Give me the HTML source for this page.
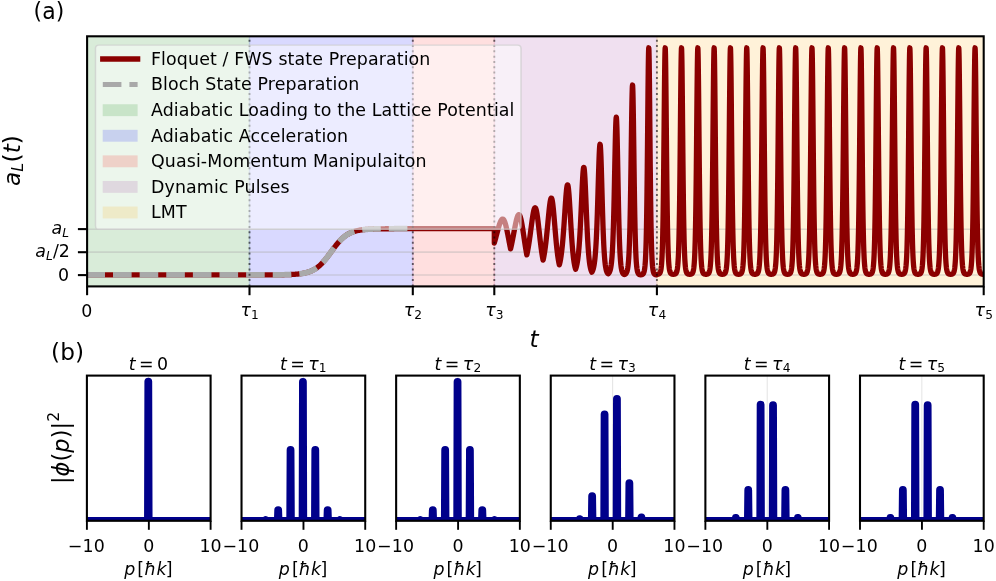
<!DOCTYPE html>
<html><head><meta charset="utf-8"><title>Floquet state preparation</title>
<style>
html,body{margin:0;padding:0;background:#fff;}
svg{display:block;}
text{font-family:'DejaVu Sans','Liberation Sans',sans-serif;fill:#000;letter-spacing:0.12px;}
.i{font-style:italic;}
</style></head><body>
<svg width="996" height="581" viewBox="0 0 996 581">
<rect width="996" height="581" fill="#fff"/>

<g id="spans">
<rect x="87.10" y="36.3" width="163.10" height="250.10" fill="#008000" fill-opacity="0.15"/>
<rect x="248.80" y="36.3" width="164.70" height="250.10" fill="#0000ff" fill-opacity="0.15"/>
<rect x="412.10" y="36.3" width="82.90" height="250.10" fill="#ff0000" fill-opacity="0.125"/>
<rect x="493.60" y="36.3" width="164.00" height="250.10" fill="#800080" fill-opacity="0.12"/>
<rect x="656.20" y="36.3" width="327.50" height="250.10" fill="#ffa500" fill-opacity="0.15"/>
</g>
<g stroke="#b0b0b0" stroke-opacity="0.4" stroke-width="1.6">
<line x1="87.1" x2="983.7" y1="275.0" y2="275.0"/>
<line x1="87.1" x2="983.7" y1="252.1" y2="252.1"/>
<line x1="87.1" x2="983.7" y1="229.2" y2="229.2"/>
</g>
<clipPath id="ca"><rect x="87.1" y="36.3" width="896.6" height="250.09999999999997"/></clipPath>
<g clip-path="url(#ca)" fill="none" stroke-linejoin="round">
<path d="M86.40,274.90 L89.73,274.90 L93.06,274.90 L96.39,274.90 L99.71,274.90 L103.04,274.90 L106.37,274.90 L109.70,274.90 L113.03,274.90 L116.36,274.90 L119.69,274.90 L123.01,274.90 L126.34,274.90 L129.67,274.90 L133.00,274.90 L136.33,274.90 L139.66,274.90 L142.99,274.90 L146.31,274.90 L149.64,274.90 L152.97,274.90 L156.30,274.90 L159.63,274.90 L162.96,274.90 L166.29,274.90 L169.61,274.90 L172.94,274.90 L176.27,274.90 L179.60,274.90 L182.93,274.90 L186.26,274.90 L189.59,274.90 L192.91,274.90 L196.24,274.90 L199.57,274.90 L202.90,274.90 L206.23,274.90 L209.56,274.90 L212.89,274.90 L216.21,274.90 L219.54,274.90 L222.87,274.90 L226.20,274.90 L229.53,274.90 L232.86,274.90 L236.19,274.90 L239.51,274.90 L242.84,274.90 L246.17,274.90 L249.50,274.90 L249.91,274.90 L250.32,274.90 L250.73,274.90 L251.14,274.90 L251.55,274.90 L251.96,274.90 L252.36,274.90 L252.77,274.90 L253.18,274.90 L253.59,274.90 L254.00,274.90 L254.41,274.90 L254.82,274.89 L255.23,274.89 L255.64,274.89 L256.05,274.89 L256.46,274.89 L256.87,274.89 L257.28,274.89 L257.69,274.89 L258.09,274.89 L258.50,274.89 L258.91,274.89 L259.32,274.89 L259.73,274.89 L260.14,274.89 L260.55,274.89 L260.96,274.89 L261.37,274.89 L261.78,274.89 L262.19,274.89 L262.60,274.89 L263.01,274.89 L263.42,274.89 L263.82,274.88 L264.23,274.88 L264.64,274.88 L265.05,274.88 L265.46,274.88 L265.87,274.88 L266.28,274.88 L266.69,274.88 L267.10,274.88 L267.51,274.88 L267.92,274.88 L268.33,274.87 L268.74,274.87 L269.15,274.87 L269.55,274.87 L269.96,274.87 L270.37,274.87 L270.78,274.87 L271.19,274.86 L271.60,274.86 L272.01,274.86 L272.42,274.86 L272.83,274.86 L273.24,274.85 L273.65,274.85 L274.06,274.85 L274.47,274.85 L274.87,274.84 L275.28,274.84 L275.69,274.84 L276.10,274.83 L276.51,274.83 L276.92,274.83 L277.33,274.82 L277.74,274.82 L278.15,274.82 L278.56,274.81 L278.97,274.81 L279.38,274.80 L279.79,274.80 L280.20,274.79 L280.60,274.79 L281.01,274.78 L281.42,274.78 L281.83,274.77 L282.24,274.76 L282.65,274.76 L283.06,274.75 L283.47,274.74 L283.88,274.73 L284.29,274.73 L284.70,274.72 L285.11,274.71 L285.52,274.70 L285.93,274.69 L286.33,274.68 L286.74,274.67 L287.15,274.66 L287.56,274.64 L287.97,274.63 L288.38,274.62 L288.79,274.60 L289.20,274.59 L289.61,274.57 L290.02,274.56 L290.43,274.54 L290.84,274.52 L291.25,274.50 L291.66,274.48 L292.06,274.46 L292.47,274.44 L292.88,274.42 L293.29,274.40 L293.70,274.37 L294.11,274.34 L294.52,274.32 L294.93,274.29 L295.34,274.26 L295.75,274.23 L296.16,274.19 L296.57,274.16 L296.98,274.12 L297.38,274.08 L297.79,274.04 L298.20,274.00 L298.61,273.96 L299.02,273.91 L299.43,273.87 L299.84,273.81 L300.25,273.76 L300.66,273.71 L301.07,273.65 L301.48,273.59 L301.89,273.52 L302.30,273.46 L302.71,273.39 L303.11,273.32 L303.52,273.24 L303.93,273.16 L304.34,273.08 L304.75,272.99 L305.16,272.90 L305.57,272.80 L305.98,272.70 L306.39,272.60 L306.80,272.49 L307.21,272.37 L307.62,272.26 L308.03,272.13 L308.44,272.00 L308.84,271.87 L309.25,271.73 L309.66,271.58 L310.07,271.43 L310.48,271.27 L310.89,271.10 L311.30,270.93 L311.71,270.74 L312.12,270.56 L312.53,270.36 L312.94,270.16 L313.35,269.95 L313.76,269.73 L314.17,269.50 L314.57,269.26 L314.98,269.02 L315.39,268.76 L315.80,268.50 L316.21,268.22 L316.62,267.94 L317.03,267.65 L317.44,267.35 L317.85,267.03 L318.26,266.71 L318.67,266.38 L319.08,266.03 L319.49,265.68 L319.89,265.31 L320.30,264.94 L320.71,264.55 L321.12,264.15 L321.53,263.75 L321.94,263.33 L322.35,262.90 L322.76,262.46 L323.17,262.02 L323.58,261.56 L323.99,261.09 L324.40,260.62 L324.81,260.13 L325.22,259.64 L325.62,259.13 L326.03,258.62 L326.44,258.11 L326.85,257.58 L327.26,257.05 L327.67,256.52 L328.08,255.97 L328.49,255.43 L328.90,254.88 L329.31,254.32 L329.72,253.76 L330.13,253.21 L330.54,252.64 L330.95,252.08 L331.35,251.52 L331.76,250.96 L332.17,250.39 L332.58,249.84 L332.99,249.28 L333.40,248.72 L333.81,248.17 L334.22,247.63 L334.63,247.08 L335.04,246.55 L335.45,246.02 L335.86,245.49 L336.27,244.98 L336.68,244.47 L337.08,243.96 L337.49,243.47 L337.90,242.98 L338.31,242.51 L338.72,242.04 L339.13,241.58 L339.54,241.14 L339.95,240.70 L340.36,240.27 L340.77,239.85 L341.18,239.45 L341.59,239.05 L342.00,238.66 L342.41,238.29 L342.81,237.92 L343.22,237.57 L343.63,237.22 L344.04,236.89 L344.45,236.57 L344.86,236.25 L345.27,235.95 L345.68,235.66 L346.09,235.38 L346.50,235.10 L346.91,234.84 L347.32,234.58 L347.73,234.34 L348.13,234.10 L348.54,233.87 L348.95,233.65 L349.36,233.44 L349.77,233.24 L350.18,233.04 L350.59,232.86 L351.00,232.67 L351.41,232.50 L351.82,232.33 L352.23,232.17 L352.64,232.02 L353.05,231.87 L353.46,231.73 L353.86,231.60 L354.27,231.47 L354.68,231.34 L355.09,231.23 L355.50,231.11 L355.91,231.00 L356.32,230.90 L356.73,230.80 L357.14,230.70 L357.55,230.61 L357.96,230.52 L358.37,230.44 L358.78,230.36 L359.19,230.28 L359.59,230.21 L360.00,230.14 L360.41,230.08 L360.82,230.01 L361.23,229.95 L361.64,229.89 L362.05,229.84 L362.46,229.79 L362.87,229.73 L363.28,229.69 L363.69,229.64 L364.10,229.60 L364.51,229.56 L364.92,229.52 L365.32,229.48 L365.73,229.44 L366.14,229.41 L366.55,229.37 L366.96,229.34 L367.37,229.31 L367.78,229.28 L368.19,229.26 L368.60,229.23 L369.01,229.20 L369.42,229.18 L369.83,229.16 L370.24,229.14 L370.64,229.12 L371.05,229.10 L371.46,229.08 L371.87,229.06 L372.28,229.04 L372.69,229.03 L373.10,229.01 L373.51,229.00 L373.92,228.98 L374.33,228.97 L374.74,228.96 L375.15,228.94 L375.56,228.93 L375.97,228.92 L376.37,228.91 L376.78,228.90 L377.19,228.89 L377.60,228.88 L378.01,228.87 L378.42,228.87 L378.83,228.86 L379.24,228.85 L379.65,228.84 L380.06,228.84 L380.47,228.83 L380.88,228.82 L381.29,228.82 L381.70,228.81 L382.10,228.81 L382.51,228.80 L382.92,228.80 L383.33,228.79 L383.74,228.79 L384.15,228.78 L384.56,228.78 L384.97,228.78 L385.38,228.77 L385.79,228.77 L386.20,228.77 L386.61,228.76 L387.02,228.76 L387.43,228.76 L387.83,228.75 L388.24,228.75 L388.65,228.75 L389.06,228.75 L389.47,228.74 L389.88,228.74 L390.29,228.74 L390.70,228.74 L391.11,228.74 L391.52,228.73 L391.93,228.73 L392.34,228.73 L392.75,228.73 L393.15,228.73 L393.56,228.73 L393.97,228.73 L394.38,228.72 L394.79,228.72 L395.20,228.72 L395.61,228.72 L396.02,228.72 L396.43,228.72 L396.84,228.72 L397.25,228.72 L397.66,228.72 L398.07,228.72 L398.48,228.72 L398.88,228.71 L399.29,228.71 L399.70,228.71 L400.11,228.71 L400.52,228.71 L400.93,228.71 L401.34,228.71 L401.75,228.71 L402.16,228.71 L402.57,228.71 L402.98,228.71 L403.39,228.71 L403.80,228.71 L404.21,228.71 L404.61,228.71 L405.02,228.71 L405.43,228.71 L405.84,228.71 L406.25,228.71 L406.66,228.71 L407.07,228.71 L407.48,228.71 L407.89,228.70 L408.30,228.70 L408.71,228.70 L409.12,228.70 L409.53,228.70 L409.94,228.70 L410.34,228.70 L410.75,228.70 L411.16,228.70 L411.57,228.70 L411.98,228.70 L412.39,228.70 L412.80,228.70 L417.09,228.70 L421.38,228.70 L425.67,228.70 L429.96,228.70 L434.25,228.70 L438.54,228.70 L442.83,228.70 L447.12,228.70 L451.41,228.70 L455.69,228.70 L459.98,228.70 L464.27,228.70 L468.56,228.70 L472.85,228.70 L477.14,228.70 L481.43,228.70 L485.72,228.70 L490.01,228.70 L494.30,228.70 L494.30,243.05 L494.44,242.58 L494.57,242.11 L494.71,241.63 L494.84,241.15 L494.98,240.66 L495.11,240.18 L495.25,239.68 L495.38,239.19 L495.52,238.69 L495.66,238.19 L495.79,237.68 L495.93,237.18 L496.06,236.67 L496.20,236.16 L496.33,235.65 L496.47,235.14 L496.60,234.63 L496.74,234.12 L496.87,233.61 L497.01,233.10 L497.15,232.59 L497.28,232.08 L497.42,231.57 L497.55,231.07 L497.69,230.57 L497.82,230.07 L497.96,229.57 L498.09,229.08 L498.23,228.60 L498.37,228.11 L498.50,227.64 L498.64,227.17 L498.77,226.71 L498.91,226.26 L499.04,225.81 L499.18,225.37 L499.31,224.95 L499.45,224.53 L499.58,224.12 L499.72,223.73 L499.86,223.34 L499.99,222.97 L500.13,222.61 L500.26,222.27 L500.40,221.94 L500.53,221.62 L500.67,221.32 L500.80,221.04 L500.94,220.78 L501.07,220.53 L501.21,220.30 L501.35,220.08 L501.48,219.89 L501.62,219.72 L501.75,219.56 L501.89,219.43 L502.02,219.32 L502.16,219.22 L502.29,219.16 L502.43,219.11 L502.57,219.08 L502.70,219.08 L502.84,219.10 L502.97,219.15 L503.11,219.22 L503.24,219.31 L503.38,219.42 L503.51,219.56 L503.65,219.73 L503.79,219.91 L503.92,220.12 L504.06,220.36 L504.19,220.62 L504.33,220.90 L504.46,221.20 L504.60,221.53 L504.73,221.88 L504.87,222.25 L505.00,222.64 L505.14,223.05 L505.28,223.49 L505.41,223.94 L505.55,224.42 L505.68,224.91 L505.82,225.42 L505.95,225.95 L506.09,226.50 L506.22,227.06 L506.36,227.64 L506.50,228.23 L506.63,228.84 L506.77,229.46 L506.90,230.09 L507.04,230.73 L507.17,231.39 L507.31,232.05 L507.44,232.73 L507.58,233.41 L507.71,234.10 L507.85,234.79 L507.99,235.50 L508.12,236.20 L508.26,236.91 L508.39,237.63 L508.53,238.34 L508.66,239.06 L508.80,239.78 L508.93,240.50 L509.07,241.22 L509.20,241.93 L509.34,242.65 L509.48,243.36 L509.61,244.07 L509.75,244.78 L509.88,245.48 L510.02,246.17 L510.15,246.86 L510.29,247.55 L510.42,248.23 L510.56,248.90 L510.70,248.33 L510.83,247.75 L510.97,247.17 L511.10,246.57 L511.24,245.97 L511.37,245.35 L511.51,244.73 L511.64,244.10 L511.78,243.46 L511.92,242.81 L512.05,242.15 L512.19,241.49 L512.32,240.82 L512.46,240.14 L512.59,239.45 L512.73,238.76 L512.86,238.06 L513.00,237.35 L513.13,236.65 L513.27,235.93 L513.41,235.22 L513.54,234.50 L513.68,233.77 L513.81,233.05 L513.95,232.32 L514.08,231.60 L514.22,230.88 L514.35,230.15 L514.49,229.43 L514.62,228.72 L514.76,228.01 L514.90,227.30 L515.03,226.60 L515.17,225.91 L515.30,225.23 L515.44,224.55 L515.57,223.89 L515.71,223.24 L515.84,222.61 L515.98,221.99 L516.12,221.39 L516.25,220.80 L516.39,220.24 L516.52,219.69 L516.66,219.17 L516.79,218.66 L516.93,218.19 L517.06,217.73 L517.20,217.31 L517.34,216.91 L517.47,216.54 L517.61,216.20 L517.74,215.90 L517.88,215.62 L518.01,215.38 L518.15,215.17 L518.28,215.00 L518.42,214.86 L518.55,214.76 L518.69,214.70 L518.83,214.67 L518.96,214.68 L519.10,214.73 L519.23,214.82 L519.37,214.95 L519.50,215.12 L519.64,215.32 L519.77,215.57 L519.91,215.85 L520.04,216.17 L520.18,216.52 L520.32,216.92 L520.45,217.35 L520.59,217.81 L520.72,218.31 L520.86,218.85 L520.99,219.42 L521.13,220.01 L521.26,220.64 L521.40,221.30 L521.54,221.98 L521.67,222.69 L521.81,223.43 L521.94,224.19 L522.08,224.97 L522.21,225.77 L522.35,226.59 L522.48,227.43 L522.62,228.28 L522.75,229.15 L522.89,230.03 L523.03,230.92 L523.16,231.82 L523.30,232.72 L523.43,233.63 L523.57,234.55 L523.70,235.47 L523.84,236.39 L523.97,237.32 L524.11,238.24 L524.25,239.16 L524.38,240.07 L524.52,240.98 L524.65,241.89 L524.79,242.78 L524.92,243.67 L525.06,244.55 L525.19,245.42 L525.33,246.29 L525.47,247.13 L525.60,247.97 L525.74,248.79 L525.87,249.61 L526.01,250.40 L526.14,251.18 L526.28,251.95 L526.41,252.70 L526.55,253.44 L526.68,254.16 L526.82,254.87 L526.96,254.26 L527.09,253.63 L527.23,252.98 L527.36,252.32 L527.50,251.64 L527.63,250.94 L527.77,250.23 L527.90,249.50 L528.04,248.75 L528.17,247.98 L528.31,247.20 L528.45,246.40 L528.58,245.58 L528.72,244.74 L528.85,243.89 L528.99,243.02 L529.12,242.14 L529.26,241.24 L529.39,240.32 L529.53,239.39 L529.67,238.45 L529.80,237.49 L529.94,236.52 L530.07,235.54 L530.21,234.55 L530.34,233.55 L530.48,232.54 L530.61,231.53 L530.75,230.51 L530.88,229.48 L531.02,228.46 L531.16,227.43 L531.29,226.40 L531.43,225.38 L531.56,224.37 L531.70,223.36 L531.83,222.36 L531.97,221.37 L532.10,220.40 L532.24,219.44 L532.38,218.51 L532.51,217.59 L532.65,216.70 L532.78,215.84 L532.92,215.01 L533.05,214.21 L533.19,213.44 L533.32,212.71 L533.46,212.03 L533.60,211.38 L533.73,210.78 L533.87,210.23 L534.00,209.73 L534.14,209.28 L534.27,208.89 L534.41,208.55 L534.54,208.27 L534.68,208.05 L534.81,207.88 L534.95,207.79 L535.09,207.75 L535.22,207.78 L535.36,207.87 L535.49,208.02 L535.63,208.24 L535.76,208.53 L535.90,208.87 L536.03,209.28 L536.17,209.75 L536.31,210.28 L536.44,210.87 L536.58,211.51 L536.71,212.21 L536.85,212.96 L536.98,213.76 L537.12,214.61 L537.25,215.51 L537.39,216.45 L537.52,217.43 L537.66,218.44 L537.80,219.49 L537.93,220.57 L538.07,221.68 L538.20,222.81 L538.34,223.96 L538.47,225.13 L538.61,226.32 L538.74,227.52 L538.88,228.73 L539.01,229.94 L539.15,231.16 L539.29,232.38 L539.42,233.60 L539.56,234.82 L539.69,236.03 L539.83,237.23 L539.96,238.42 L540.10,239.60 L540.23,240.76 L540.37,241.91 L540.51,243.04 L540.64,244.15 L540.78,245.25 L540.91,246.32 L541.05,247.37 L541.18,248.40 L541.32,249.40 L541.45,250.38 L541.59,251.34 L541.73,252.27 L541.86,253.17 L542.00,254.05 L542.13,254.91 L542.27,255.74 L542.40,256.54 L542.54,257.32 L542.67,258.07 L542.81,258.80 L542.94,259.50 L543.08,260.18 L543.22,259.59 L543.35,258.97 L543.49,258.33 L543.62,257.67 L543.76,256.98 L543.89,256.27 L544.03,255.53 L544.16,254.76 L544.30,253.97 L544.44,253.14 L544.57,252.29 L544.71,251.41 L544.84,250.51 L544.98,249.57 L545.11,248.60 L545.25,247.60 L545.38,246.57 L545.52,245.51 L545.65,244.43 L545.79,243.31 L545.93,242.16 L546.06,240.98 L546.20,239.77 L546.33,238.54 L546.47,237.27 L546.60,235.98 L546.74,234.67 L546.87,233.33 L547.01,231.97 L547.14,230.59 L547.28,229.20 L547.42,227.78 L547.55,226.36 L547.69,224.92 L547.82,223.48 L547.96,222.03 L548.09,220.59 L548.23,219.15 L548.36,217.71 L548.50,216.29 L548.64,214.89 L548.77,213.50 L548.91,212.15 L549.04,210.82 L549.18,209.53 L549.31,208.29 L549.45,207.09 L549.58,205.94 L549.72,204.85 L549.86,203.83 L549.99,202.87 L550.13,201.99 L550.26,201.19 L550.40,200.47 L550.53,199.83 L550.67,199.29 L550.80,198.84 L550.94,198.49 L551.07,198.25 L551.21,198.10 L551.35,198.06 L551.48,198.12 L551.62,198.29 L551.75,198.57 L551.89,198.95 L552.02,199.44 L552.16,200.02 L552.29,200.71 L552.43,201.49 L552.57,202.37 L552.70,203.33 L552.84,204.38 L552.97,205.51 L553.11,206.72 L553.24,207.99 L553.38,209.33 L553.51,210.73 L553.65,212.18 L553.78,213.67 L553.92,215.21 L554.06,216.78 L554.19,218.38 L554.33,220.00 L554.46,221.63 L554.60,223.28 L554.73,224.94 L554.87,226.59 L555.00,228.24 L555.14,229.88 L555.27,231.51 L555.41,233.12 L555.55,234.71 L555.68,236.28 L555.82,237.82 L555.95,239.33 L556.09,240.81 L556.22,242.26 L556.36,243.67 L556.49,245.05 L556.63,246.38 L556.77,247.68 L556.90,248.94 L557.04,250.15 L557.17,251.33 L557.31,252.46 L557.44,253.56 L557.58,254.61 L557.71,255.63 L557.85,256.60 L557.99,257.54 L558.12,258.43 L558.26,259.29 L558.39,260.11 L558.53,260.90 L558.66,261.65 L558.80,262.37 L558.93,263.05 L559.07,263.70 L559.20,264.32 L559.34,264.91 L559.48,264.40 L559.61,263.86 L559.75,263.30 L559.88,262.71 L560.02,262.08 L560.15,261.43 L560.29,260.74 L560.42,260.02 L560.56,259.27 L560.69,258.48 L560.83,257.65 L560.97,256.78 L561.10,255.87 L561.24,254.92 L561.37,253.92 L561.51,252.88 L561.64,251.79 L561.78,250.66 L561.91,249.47 L562.05,248.24 L562.19,246.95 L562.32,245.62 L562.46,244.23 L562.59,242.79 L562.73,241.29 L562.86,239.74 L563.00,238.14 L563.13,236.49 L563.27,234.79 L563.40,233.04 L563.54,231.24 L563.68,229.39 L563.81,227.50 L563.95,225.57 L564.08,223.60 L564.22,221.60 L564.35,219.58 L564.49,217.53 L564.62,215.47 L564.76,213.40 L564.90,211.33 L565.03,209.26 L565.17,207.22 L565.30,205.19 L565.44,203.20 L565.57,201.26 L565.71,199.37 L565.84,197.55 L565.98,195.81 L566.12,194.16 L566.25,192.61 L566.39,191.17 L566.52,189.85 L566.66,188.66 L566.79,187.62 L566.93,186.73 L567.06,186.00 L567.20,185.43 L567.33,185.04 L567.47,184.82 L567.61,184.79 L567.74,184.93 L567.88,185.26 L568.01,185.77 L568.15,186.46 L568.28,187.33 L568.42,188.36 L568.55,189.56 L568.69,190.91 L568.83,192.41 L568.96,194.04 L569.10,195.80 L569.23,197.67 L569.37,199.64 L569.50,201.70 L569.64,203.84 L569.77,206.04 L569.91,208.29 L570.04,210.58 L570.18,212.90 L570.32,215.24 L570.45,217.57 L570.59,219.91 L570.72,222.23 L570.86,224.53 L570.99,226.79 L571.13,229.02 L571.26,231.20 L571.40,233.33 L571.53,235.41 L571.67,237.43 L571.81,239.39 L571.94,241.28 L572.08,243.11 L572.21,244.87 L572.35,246.56 L572.48,248.18 L572.62,249.73 L572.75,251.21 L572.89,252.62 L573.03,253.97 L573.16,255.25 L573.30,256.47 L573.43,257.62 L573.57,258.71 L573.70,259.75 L573.84,260.72 L573.97,261.64 L574.11,262.51 L574.25,263.33 L574.38,264.10 L574.52,264.83 L574.65,265.51 L574.79,266.15 L574.92,266.75 L575.06,267.31 L575.19,267.84 L575.33,268.33 L575.46,268.79 L575.60,269.23 L575.74,268.86 L575.87,268.47 L576.01,268.05 L576.14,267.60 L576.28,267.13 L576.41,266.62 L576.55,266.08 L576.68,265.51 L576.82,264.89 L576.96,264.24 L577.09,263.54 L577.23,262.80 L577.36,262.02 L577.50,261.18 L577.63,260.28 L577.77,259.34 L577.90,258.33 L578.04,257.26 L578.17,256.12 L578.31,254.92 L578.45,253.64 L578.58,252.29 L578.72,250.85 L578.85,249.34 L578.99,247.74 L579.12,246.05 L579.26,244.28 L579.39,242.41 L579.53,240.44 L579.66,238.38 L579.80,236.23 L579.94,233.97 L580.07,231.62 L580.21,229.17 L580.34,226.63 L580.48,224.00 L580.61,221.29 L580.75,218.49 L580.88,215.62 L581.02,212.69 L581.16,209.71 L581.29,206.68 L581.43,203.63 L581.56,200.56 L581.70,197.50 L581.83,194.47 L581.97,191.48 L582.10,188.56 L582.24,185.72 L582.38,183.01 L582.51,180.43 L582.65,178.02 L582.78,175.79 L582.92,173.78 L583.05,172.00 L583.19,170.48 L583.32,169.24 L583.46,168.29 L583.59,167.65 L583.73,167.32 L583.87,167.31 L584.00,167.64 L584.14,168.28 L584.27,169.25 L584.41,170.53 L584.54,172.11 L584.68,173.97 L584.81,176.09 L584.95,178.45 L585.09,181.04 L585.22,183.81 L585.36,186.75 L585.49,189.83 L585.63,193.02 L585.76,196.30 L585.90,199.64 L586.03,203.01 L586.17,206.39 L586.30,209.76 L586.44,213.10 L586.58,216.39 L586.71,219.62 L586.85,222.77 L586.98,225.83 L587.12,228.79 L587.25,231.65 L587.39,234.39 L587.52,237.02 L587.66,239.53 L587.79,241.92 L587.93,244.19 L588.07,246.34 L588.20,248.37 L588.34,250.28 L588.47,252.08 L588.61,253.77 L588.74,255.35 L588.88,256.83 L589.01,258.22 L589.15,259.51 L589.29,260.71 L589.42,261.83 L589.56,262.87 L589.69,263.83 L589.83,264.72 L589.96,265.55 L590.10,266.32 L590.23,267.02 L590.37,267.68 L590.50,268.28 L590.64,268.83 L590.78,269.35 L590.91,269.82 L591.05,270.25 L591.18,270.65 L591.32,271.02 L591.45,271.35 L591.59,271.66 L591.72,271.94 L591.86,272.20 L592.00,271.98 L592.13,271.74 L592.27,271.49 L592.40,271.21 L592.54,270.90 L592.67,270.58 L592.81,270.22 L592.94,269.83 L593.08,269.41 L593.22,268.96 L593.35,268.47 L593.49,267.93 L593.62,267.35 L593.76,266.72 L593.89,266.04 L594.03,265.30 L594.16,264.50 L594.30,263.63 L594.43,262.70 L594.57,261.68 L594.71,260.58 L594.84,259.39 L594.98,258.10 L595.11,256.72 L595.25,255.22 L595.38,253.61 L595.52,251.87 L595.65,250.00 L595.79,247.99 L595.92,245.83 L596.06,243.52 L596.20,241.05 L596.33,238.41 L596.47,235.60 L596.60,232.61 L596.74,229.45 L596.87,226.10 L597.01,222.57 L597.14,218.87 L597.28,215.00 L597.42,210.96 L597.55,206.77 L597.69,202.45 L597.82,198.02 L597.96,193.50 L598.09,188.92 L598.23,184.32 L598.36,179.74 L598.50,175.22 L598.63,170.81 L598.77,166.56 L598.91,162.53 L599.04,158.77 L599.18,155.33 L599.31,152.28 L599.45,149.66 L599.58,147.51 L599.72,145.89 L599.85,144.81 L599.99,144.31 L600.13,144.40 L600.26,145.08 L600.40,146.34 L600.53,148.17 L600.67,150.54 L600.80,153.40 L600.94,156.73 L601.07,160.46 L601.21,164.54 L601.35,168.91 L601.48,173.52 L601.62,178.29 L601.75,183.19 L601.89,188.14 L602.02,193.11 L602.16,198.04 L602.29,202.90 L602.43,207.64 L602.56,212.25 L602.70,216.70 L602.84,220.96 L602.97,225.02 L603.11,228.88 L603.24,232.53 L603.38,235.97 L603.51,239.19 L603.65,242.20 L603.78,245.00 L603.92,247.60 L604.05,250.01 L604.19,252.24 L604.33,254.29 L604.46,256.18 L604.60,257.91 L604.73,259.50 L604.87,260.95 L605.00,262.28 L605.14,263.49 L605.27,264.60 L605.41,265.60 L605.55,266.51 L605.68,267.34 L605.82,268.09 L605.95,268.77 L606.09,269.38 L606.22,269.94 L606.36,270.44 L606.49,270.89 L606.63,271.30 L606.76,271.67 L606.90,272.01 L607.04,272.31 L607.17,272.58 L607.31,272.82 L607.44,273.04 L607.58,273.23 L607.71,273.41 L607.85,273.57 L607.98,273.71 L608.12,273.83 L608.26,273.73 L608.39,273.61 L608.53,273.48 L608.66,273.33 L608.80,273.17 L608.93,273.00 L609.07,272.80 L609.20,272.59 L609.34,272.35 L609.48,272.08 L609.61,271.79 L609.75,271.47 L609.88,271.11 L610.02,270.72 L610.15,270.28 L610.29,269.80 L610.42,269.26 L610.56,268.67 L610.69,268.01 L610.83,267.28 L610.97,266.48 L611.10,265.59 L611.24,264.61 L611.37,263.53 L611.51,262.33 L611.64,261.01 L611.78,259.55 L611.91,257.94 L612.05,256.17 L612.18,254.22 L612.32,252.08 L612.46,249.73 L612.59,247.16 L612.73,244.34 L612.86,241.26 L613.00,237.91 L613.13,234.28 L613.27,230.33 L613.40,226.08 L613.54,221.50 L613.68,216.59 L613.81,211.36 L613.95,205.81 L614.08,199.96 L614.22,193.83 L614.35,187.45 L614.49,180.88 L614.62,174.16 L614.76,167.37 L614.89,160.60 L615.03,153.94 L615.17,147.48 L615.30,141.36 L615.44,135.68 L615.57,130.57 L615.71,126.14 L615.84,122.51 L615.98,119.76 L616.11,117.98 L616.25,117.21 L616.39,117.49 L616.52,118.82 L616.66,121.16 L616.79,124.48 L616.93,128.68 L617.06,133.67 L617.20,139.34 L617.33,145.57 L617.47,152.24 L617.61,159.20 L617.74,166.35 L617.88,173.56 L618.01,180.75 L618.15,187.82 L618.28,194.69 L618.42,201.30 L618.55,207.62 L618.69,213.60 L618.82,219.22 L618.96,224.47 L619.10,229.35 L619.23,233.86 L619.37,238.00 L619.50,241.79 L619.64,245.25 L619.77,248.40 L619.91,251.25 L620.04,253.82 L620.18,256.14 L620.32,258.23 L620.45,260.10 L620.59,261.78 L620.72,263.27 L620.86,264.61 L620.99,265.80 L621.13,266.86 L621.26,267.80 L621.40,268.64 L621.53,269.38 L621.67,270.04 L621.81,270.62 L621.94,271.13 L622.08,271.59 L622.21,271.99 L622.35,272.34 L622.48,272.65 L622.62,272.93 L622.75,273.17 L622.89,273.39 L623.02,273.57 L623.16,273.74 L623.30,273.88 L623.43,274.01 L623.57,274.12 L623.70,274.22 L623.84,274.31 L623.97,274.38 L624.11,274.45 L624.24,274.50 L624.38,274.55 L624.52,274.51 L624.65,274.46 L624.79,274.41 L624.92,274.35 L625.06,274.28 L625.19,274.20 L625.33,274.11 L625.46,274.01 L625.60,273.90 L625.74,273.77 L625.87,273.63 L626.01,273.47 L626.14,273.29 L626.28,273.08 L626.41,272.84 L626.55,272.58 L626.68,272.27 L626.82,271.93 L626.95,271.55 L627.09,271.11 L627.23,270.61 L627.36,270.05 L627.50,269.41 L627.63,268.69 L627.77,267.88 L627.90,266.95 L628.04,265.90 L628.17,264.72 L628.31,263.38 L628.44,261.86 L628.58,260.15 L628.72,258.22 L628.85,256.04 L628.99,253.59 L629.12,250.83 L629.26,247.73 L629.39,244.26 L629.53,240.39 L629.66,236.07 L629.80,231.27 L629.94,225.97 L630.07,220.12 L630.21,213.71 L630.34,206.73 L630.48,199.16 L630.61,191.04 L630.75,182.38 L630.88,173.26 L631.02,163.74 L631.15,153.96 L631.29,144.05 L631.43,134.20 L631.56,124.62 L631.70,115.53 L631.83,107.20 L631.97,99.87 L632.10,93.80 L632.24,89.18 L632.37,86.22 L632.51,85.02 L632.65,85.64 L632.78,88.09 L632.92,92.26 L633.05,98.03 L633.19,105.20 L633.32,113.53 L633.46,122.78 L633.59,132.66 L633.73,142.94 L633.87,153.36 L634.00,163.72 L634.14,173.84 L634.27,183.57 L634.41,192.80 L634.54,201.46 L634.68,209.50 L634.81,216.90 L634.95,223.65 L635.08,229.77 L635.22,235.28 L635.36,240.21 L635.49,244.61 L635.63,248.50 L635.76,251.95 L635.90,254.98 L636.03,257.64 L636.17,259.97 L636.30,262.01 L636.44,263.78 L636.58,265.32 L636.71,266.66 L636.85,267.82 L636.98,268.82 L637.12,269.68 L637.25,270.43 L637.39,271.07 L637.52,271.63 L637.66,272.10 L637.79,272.51 L637.93,272.86 L638.07,273.16 L638.20,273.42 L638.34,273.64 L638.47,273.83 L638.61,273.99 L638.74,274.12 L638.88,274.24 L639.01,274.34 L639.15,274.43 L639.28,274.50 L639.42,274.56 L639.56,274.61 L639.69,274.66 L639.83,274.69 L639.96,274.73 L640.10,274.75 L640.23,274.78 L640.37,274.80 L640.50,274.81 L640.64,274.83 L640.78,274.81 L640.91,274.80 L641.05,274.79 L641.18,274.77 L641.32,274.75 L641.45,274.73 L641.59,274.70 L641.72,274.67 L641.86,274.63 L642.00,274.59 L642.13,274.54 L642.27,274.48 L642.40,274.42 L642.54,274.34 L642.67,274.25 L642.81,274.14 L642.94,274.02 L643.08,273.88 L643.21,273.71 L643.35,273.51 L643.49,273.28 L643.62,273.01 L643.76,272.70 L643.89,272.33 L644.03,271.91 L644.16,271.40 L644.30,270.82 L644.43,270.13 L644.57,269.32 L644.70,268.38 L644.84,267.27 L644.98,265.98 L645.11,264.47 L645.25,262.71 L645.38,260.65 L645.52,258.25 L645.65,255.46 L645.79,252.21 L645.92,248.45 L646.06,244.10 L646.20,239.08 L646.33,233.32 L646.47,226.75 L646.60,219.27 L646.74,210.83 L646.87,201.37 L647.01,190.87 L647.14,179.34 L647.28,166.83 L647.41,153.45 L647.55,139.41 L647.69,124.96 L647.82,110.47 L647.96,96.36 L648.09,83.13 L648.23,71.32 L648.36,61.44 L648.50,53.99 L648.63,49.35 L648.77,47.78 L648.91,49.35 L649.04,53.97 L649.18,61.40 L649.31,71.26 L649.45,83.06 L649.58,96.28 L649.72,110.40 L649.85,124.92 L649.99,139.40 L650.12,153.50 L650.26,166.93 L650.40,179.51 L650.53,191.12 L650.67,201.69 L650.80,211.21 L650.94,219.71 L651.07,227.24 L651.21,233.86 L651.34,239.65 L651.48,244.68 L651.62,249.05 L651.75,252.82 L651.89,256.07 L652.02,258.85 L652.16,261.24 L652.29,263.28 L652.43,265.03 L652.56,266.52 L652.70,267.78 L652.84,268.86 L652.97,269.78 L653.11,270.56 L653.24,271.22 L653.38,271.78 L653.51,272.26 L653.65,272.66 L653.78,273.00 L653.92,273.29 L654.05,273.54 L654.19,273.75 L654.33,273.92 L654.46,274.07 L654.60,274.20 L654.73,274.31 L654.87,274.40 L655.00,274.48 L655.14,274.54 L655.27,274.60 L655.41,274.64 L655.54,274.68 L655.68,274.72 L655.82,274.74 L655.95,274.77 L656.09,274.79 L656.22,274.81 L656.36,274.82 L656.49,274.83 L656.63,274.84 L656.76,274.85 L656.90,274.86 L657.19,274.30 L657.32,274.29 L657.46,274.28 L657.59,274.27 L657.73,274.25 L657.87,274.23 L658.00,274.21 L658.14,274.19 L658.27,274.16 L658.41,274.13 L658.54,274.09 L658.68,274.04 L658.82,273.99 L658.95,273.92 L659.09,273.84 L659.22,273.75 L659.36,273.65 L659.50,273.52 L659.63,273.37 L659.77,273.20 L659.90,272.99 L660.04,272.74 L660.18,272.45 L660.31,272.11 L660.45,271.71 L660.58,271.23 L660.72,270.67 L660.86,270.01 L660.99,269.24 L661.13,268.32 L661.26,267.25 L661.40,265.98 L661.53,264.50 L661.67,262.76 L661.81,260.72 L661.94,258.34 L662.08,255.56 L662.21,252.32 L662.35,248.56 L662.49,244.20 L662.62,239.18 L662.76,233.40 L662.89,226.80 L663.03,219.29 L663.17,210.81 L663.30,201.31 L663.44,190.77 L663.57,179.19 L663.71,166.64 L663.84,153.24 L663.98,139.18 L664.12,124.73 L664.25,110.25 L664.39,96.16 L664.52,82.97 L664.66,71.20 L664.80,61.37 L664.93,53.96 L665.07,49.34 L665.20,47.78 L665.34,49.34 L665.48,53.96 L665.61,61.37 L665.75,71.20 L665.88,82.97 L666.02,96.16 L666.16,110.25 L666.29,124.73 L666.43,139.18 L666.56,153.24 L666.70,166.64 L666.83,179.19 L666.97,190.77 L667.11,201.31 L667.24,210.81 L667.38,219.29 L667.51,226.80 L667.65,233.40 L667.79,239.18 L667.92,244.20 L668.06,248.56 L668.19,252.32 L668.33,255.56 L668.47,258.34 L668.60,260.72 L668.74,262.76 L668.87,264.50 L669.01,265.98 L669.15,267.25 L669.28,268.32 L669.42,269.24 L669.55,270.01 L669.69,270.67 L669.82,271.23 L669.96,271.71 L670.10,272.11 L670.23,272.45 L670.37,272.74 L670.50,272.99 L670.64,273.20 L670.78,273.37 L670.91,273.52 L671.05,273.65 L671.18,273.75 L671.32,273.84 L671.46,273.92 L671.59,273.99 L671.73,274.04 L671.86,274.09 L672.00,274.13 L672.13,274.16 L672.27,274.19 L672.41,274.21 L672.54,274.23 L672.68,274.25 L672.81,274.27 L672.95,274.28 L673.09,274.29 L673.22,274.30 L673.36,274.30 L673.49,274.30 L673.63,274.29 L673.77,274.28 L673.90,274.27 L674.04,274.25 L674.17,274.23 L674.31,274.21 L674.45,274.19 L674.58,274.16 L674.72,274.13 L674.85,274.09 L674.99,274.04 L675.12,273.99 L675.26,273.92 L675.40,273.84 L675.53,273.75 L675.67,273.65 L675.80,273.52 L675.94,273.37 L676.08,273.20 L676.21,272.99 L676.35,272.74 L676.48,272.45 L676.62,272.11 L676.76,271.71 L676.89,271.23 L677.03,270.67 L677.16,270.01 L677.30,269.24 L677.43,268.32 L677.57,267.25 L677.71,265.98 L677.84,264.50 L677.98,262.76 L678.11,260.72 L678.25,258.34 L678.39,255.56 L678.52,252.32 L678.66,248.56 L678.79,244.20 L678.93,239.18 L679.07,233.40 L679.20,226.80 L679.34,219.29 L679.47,210.81 L679.61,201.31 L679.75,190.77 L679.88,179.19 L680.02,166.64 L680.15,153.24 L680.29,139.18 L680.42,124.73 L680.56,110.25 L680.70,96.16 L680.83,82.97 L680.97,71.20 L681.10,61.37 L681.24,53.96 L681.38,49.34 L681.51,47.78 L681.65,49.34 L681.78,53.96 L681.92,61.37 L682.06,71.20 L682.19,82.97 L682.33,96.16 L682.46,110.25 L682.60,124.73 L682.74,139.18 L682.87,153.24 L683.01,166.64 L683.14,179.19 L683.28,190.77 L683.41,201.31 L683.55,210.81 L683.69,219.29 L683.82,226.80 L683.96,233.40 L684.09,239.18 L684.23,244.20 L684.37,248.56 L684.50,252.32 L684.64,255.56 L684.77,258.34 L684.91,260.72 L685.05,262.76 L685.18,264.50 L685.32,265.98 L685.45,267.25 L685.59,268.32 L685.72,269.24 L685.86,270.01 L686.00,270.67 L686.13,271.23 L686.27,271.71 L686.40,272.11 L686.54,272.45 L686.68,272.74 L686.81,272.99 L686.95,273.20 L687.08,273.37 L687.22,273.52 L687.36,273.65 L687.49,273.75 L687.63,273.84 L687.76,273.92 L687.90,273.99 L688.04,274.04 L688.17,274.09 L688.31,274.13 L688.44,274.16 L688.58,274.19 L688.71,274.21 L688.85,274.23 L688.99,274.25 L689.12,274.27 L689.26,274.28 L689.39,274.29 L689.53,274.30 L689.67,274.30 L689.80,274.30 L689.94,274.29 L690.07,274.28 L690.21,274.27 L690.35,274.25 L690.48,274.23 L690.62,274.21 L690.75,274.19 L690.89,274.16 L691.02,274.13 L691.16,274.09 L691.30,274.04 L691.43,273.99 L691.57,273.92 L691.70,273.84 L691.84,273.75 L691.98,273.65 L692.11,273.52 L692.25,273.37 L692.38,273.20 L692.52,272.99 L692.66,272.74 L692.79,272.45 L692.93,272.11 L693.06,271.71 L693.20,271.23 L693.34,270.67 L693.47,270.01 L693.61,269.24 L693.74,268.32 L693.88,267.25 L694.01,265.98 L694.15,264.50 L694.29,262.76 L694.42,260.72 L694.56,258.34 L694.69,255.56 L694.83,252.32 L694.97,248.56 L695.10,244.20 L695.24,239.18 L695.37,233.40 L695.51,226.80 L695.65,219.29 L695.78,210.81 L695.92,201.31 L696.05,190.77 L696.19,179.19 L696.33,166.64 L696.46,153.24 L696.60,139.18 L696.73,124.73 L696.87,110.25 L697.00,96.16 L697.14,82.97 L697.28,71.20 L697.41,61.37 L697.55,53.96 L697.68,49.34 L697.82,47.78 L697.96,49.34 L698.09,53.96 L698.23,61.37 L698.36,71.20 L698.50,82.97 L698.64,96.16 L698.77,110.25 L698.91,124.73 L699.04,139.18 L699.18,153.24 L699.31,166.64 L699.45,179.19 L699.59,190.77 L699.72,201.31 L699.86,210.81 L699.99,219.29 L700.13,226.80 L700.27,233.40 L700.40,239.18 L700.54,244.20 L700.67,248.56 L700.81,252.32 L700.95,255.56 L701.08,258.34 L701.22,260.72 L701.35,262.76 L701.49,264.50 L701.63,265.98 L701.76,267.25 L701.90,268.32 L702.03,269.24 L702.17,270.01 L702.30,270.67 L702.44,271.23 L702.58,271.71 L702.71,272.11 L702.85,272.45 L702.98,272.74 L703.12,272.99 L703.26,273.20 L703.39,273.37 L703.53,273.52 L703.66,273.65 L703.80,273.75 L703.94,273.84 L704.07,273.92 L704.21,273.99 L704.34,274.04 L704.48,274.09 L704.62,274.13 L704.75,274.16 L704.89,274.19 L705.02,274.21 L705.16,274.23 L705.29,274.25 L705.43,274.27 L705.57,274.28 L705.70,274.29 L705.84,274.30 L705.97,274.30 L706.11,274.30 L706.25,274.29 L706.38,274.28 L706.52,274.27 L706.65,274.25 L706.79,274.23 L706.93,274.21 L707.06,274.19 L707.20,274.16 L707.33,274.13 L707.47,274.09 L707.60,274.04 L707.74,273.99 L707.88,273.92 L708.01,273.84 L708.15,273.75 L708.28,273.65 L708.42,273.52 L708.56,273.37 L708.69,273.20 L708.83,272.99 L708.96,272.74 L709.10,272.45 L709.24,272.11 L709.37,271.71 L709.51,271.23 L709.64,270.67 L709.78,270.01 L709.92,269.24 L710.05,268.32 L710.19,267.25 L710.32,265.98 L710.46,264.50 L710.59,262.76 L710.73,260.72 L710.87,258.34 L711.00,255.56 L711.14,252.32 L711.27,248.56 L711.41,244.20 L711.55,239.18 L711.68,233.40 L711.82,226.80 L711.95,219.29 L712.09,210.81 L712.23,201.31 L712.36,190.77 L712.50,179.19 L712.63,166.64 L712.77,153.24 L712.90,139.18 L713.04,124.73 L713.18,110.25 L713.31,96.16 L713.45,82.97 L713.58,71.20 L713.72,61.37 L713.86,53.96 L713.99,49.34 L714.13,47.78 L714.26,49.34 L714.40,53.96 L714.54,61.37 L714.67,71.20 L714.81,82.97 L714.94,96.16 L715.08,110.25 L715.22,124.73 L715.35,139.18 L715.49,153.24 L715.62,166.64 L715.76,179.19 L715.89,190.77 L716.03,201.31 L716.17,210.81 L716.30,219.29 L716.44,226.80 L716.57,233.40 L716.71,239.18 L716.85,244.20 L716.98,248.56 L717.12,252.32 L717.25,255.56 L717.39,258.34 L717.53,260.72 L717.66,262.76 L717.80,264.50 L717.93,265.98 L718.07,267.25 L718.20,268.32 L718.34,269.24 L718.48,270.01 L718.61,270.67 L718.75,271.23 L718.88,271.71 L719.02,272.11 L719.16,272.45 L719.29,272.74 L719.43,272.99 L719.56,273.20 L719.70,273.37 L719.84,273.52 L719.97,273.65 L720.11,273.75 L720.24,273.84 L720.38,273.92 L720.52,273.99 L720.65,274.04 L720.79,274.09 L720.92,274.13 L721.06,274.16 L721.19,274.19 L721.33,274.21 L721.47,274.23 L721.60,274.25 L721.74,274.27 L721.87,274.28 L722.01,274.29 L722.15,274.30 L722.28,274.30 L722.42,274.30 L722.55,274.29 L722.69,274.28 L722.83,274.27 L722.96,274.25 L723.10,274.23 L723.23,274.21 L723.37,274.19 L723.51,274.16 L723.64,274.13 L723.78,274.09 L723.91,274.04 L724.05,273.99 L724.18,273.92 L724.32,273.84 L724.46,273.75 L724.59,273.65 L724.73,273.52 L724.86,273.37 L725.00,273.20 L725.14,272.99 L725.27,272.74 L725.41,272.45 L725.54,272.11 L725.68,271.71 L725.82,271.23 L725.95,270.67 L726.09,270.01 L726.22,269.24 L726.36,268.32 L726.49,267.25 L726.63,265.98 L726.77,264.50 L726.90,262.76 L727.04,260.72 L727.17,258.34 L727.31,255.56 L727.45,252.32 L727.58,248.56 L727.72,244.20 L727.85,239.18 L727.99,233.40 L728.13,226.80 L728.26,219.29 L728.40,210.81 L728.53,201.31 L728.67,190.77 L728.81,179.19 L728.94,166.64 L729.08,153.24 L729.21,139.18 L729.35,124.73 L729.48,110.25 L729.62,96.16 L729.76,82.97 L729.89,71.20 L730.03,61.37 L730.16,53.96 L730.30,49.34 L730.44,47.78 L730.57,49.34 L730.71,53.96 L730.84,61.37 L730.98,71.20 L731.12,82.97 L731.25,96.16 L731.39,110.25 L731.52,124.73 L731.66,139.18 L731.79,153.24 L731.93,166.64 L732.07,179.19 L732.20,190.77 L732.34,201.31 L732.47,210.81 L732.61,219.29 L732.75,226.80 L732.88,233.40 L733.02,239.18 L733.15,244.20 L733.29,248.56 L733.43,252.32 L733.56,255.56 L733.70,258.34 L733.83,260.72 L733.97,262.76 L734.11,264.50 L734.24,265.98 L734.38,267.25 L734.51,268.32 L734.65,269.24 L734.78,270.01 L734.92,270.67 L735.06,271.23 L735.19,271.71 L735.33,272.11 L735.46,272.45 L735.60,272.74 L735.74,272.99 L735.87,273.20 L736.01,273.37 L736.14,273.52 L736.28,273.65 L736.42,273.75 L736.55,273.84 L736.69,273.92 L736.82,273.99 L736.96,274.04 L737.10,274.09 L737.23,274.13 L737.37,274.16 L737.50,274.19 L737.64,274.21 L737.77,274.23 L737.91,274.25 L738.05,274.27 L738.18,274.28 L738.32,274.29 L738.45,274.30 L738.59,274.30 L738.73,274.30 L738.86,274.29 L739.00,274.28 L739.13,274.27 L739.27,274.25 L739.41,274.23 L739.54,274.21 L739.68,274.19 L739.81,274.16 L739.95,274.13 L740.08,274.09 L740.22,274.04 L740.36,273.99 L740.49,273.92 L740.63,273.84 L740.76,273.75 L740.90,273.65 L741.04,273.52 L741.17,273.37 L741.31,273.20 L741.44,272.99 L741.58,272.74 L741.72,272.45 L741.85,272.11 L741.99,271.71 L742.12,271.23 L742.26,270.67 L742.40,270.01 L742.53,269.24 L742.67,268.32 L742.80,267.25 L742.94,265.98 L743.07,264.50 L743.21,262.76 L743.35,260.72 L743.48,258.34 L743.62,255.56 L743.75,252.32 L743.89,248.56 L744.03,244.20 L744.16,239.18 L744.30,233.40 L744.43,226.80 L744.57,219.29 L744.71,210.81 L744.84,201.31 L744.98,190.77 L745.11,179.19 L745.25,166.64 L745.38,153.24 L745.52,139.18 L745.66,124.73 L745.79,110.25 L745.93,96.16 L746.06,82.97 L746.20,71.20 L746.34,61.37 L746.47,53.96 L746.61,49.34 L746.74,47.78 L746.88,49.34 L747.02,53.96 L747.15,61.37 L747.29,71.20 L747.42,82.97 L747.56,96.16 L747.70,110.25 L747.83,124.73 L747.97,139.18 L748.10,153.24 L748.24,166.64 L748.37,179.19 L748.51,190.77 L748.65,201.31 L748.78,210.81 L748.92,219.29 L749.05,226.80 L749.19,233.40 L749.33,239.18 L749.46,244.20 L749.60,248.56 L749.73,252.32 L749.87,255.56 L750.01,258.34 L750.14,260.72 L750.28,262.76 L750.41,264.50 L750.55,265.98 L750.69,267.25 L750.82,268.32 L750.96,269.24 L751.09,270.01 L751.23,270.67 L751.36,271.23 L751.50,271.71 L751.64,272.11 L751.77,272.45 L751.91,272.74 L752.04,272.99 L752.18,273.20 L752.32,273.37 L752.45,273.52 L752.59,273.65 L752.72,273.75 L752.86,273.84 L753.00,273.92 L753.13,273.99 L753.27,274.04 L753.40,274.09 L753.54,274.13 L753.67,274.16 L753.81,274.19 L753.95,274.21 L754.08,274.23 L754.22,274.25 L754.35,274.27 L754.49,274.28 L754.63,274.29 L754.76,274.30 L754.90,274.30 L755.03,274.30 L755.17,274.29 L755.31,274.28 L755.44,274.27 L755.58,274.25 L755.71,274.23 L755.85,274.21 L755.99,274.19 L756.12,274.16 L756.26,274.13 L756.39,274.09 L756.53,274.04 L756.66,273.99 L756.80,273.92 L756.94,273.84 L757.07,273.75 L757.21,273.65 L757.34,273.52 L757.48,273.37 L757.62,273.20 L757.75,272.99 L757.89,272.74 L758.02,272.45 L758.16,272.11 L758.30,271.71 L758.43,271.23 L758.57,270.67 L758.70,270.01 L758.84,269.24 L758.97,268.32 L759.11,267.25 L759.25,265.98 L759.38,264.50 L759.52,262.76 L759.65,260.72 L759.79,258.34 L759.93,255.56 L760.06,252.32 L760.20,248.56 L760.33,244.20 L760.47,239.18 L760.61,233.40 L760.74,226.80 L760.88,219.29 L761.01,210.81 L761.15,201.31 L761.29,190.77 L761.42,179.19 L761.56,166.64 L761.69,153.24 L761.83,139.18 L761.96,124.73 L762.10,110.25 L762.24,96.16 L762.37,82.97 L762.51,71.20 L762.64,61.37 L762.78,53.96 L762.92,49.34 L763.05,47.78 L763.19,49.34 L763.32,53.96 L763.46,61.37 L763.60,71.20 L763.73,82.97 L763.87,96.16 L764.00,110.25 L764.14,124.73 L764.28,139.18 L764.41,153.24 L764.55,166.64 L764.68,179.19 L764.82,190.77 L764.95,201.31 L765.09,210.81 L765.23,219.29 L765.36,226.80 L765.50,233.40 L765.63,239.18 L765.77,244.20 L765.91,248.56 L766.04,252.32 L766.18,255.56 L766.31,258.34 L766.45,260.72 L766.59,262.76 L766.72,264.50 L766.86,265.98 L766.99,267.25 L767.13,268.32 L767.26,269.24 L767.40,270.01 L767.54,270.67 L767.67,271.23 L767.81,271.71 L767.94,272.11 L768.08,272.45 L768.22,272.74 L768.35,272.99 L768.49,273.20 L768.62,273.37 L768.76,273.52 L768.90,273.65 L769.03,273.75 L769.17,273.84 L769.30,273.92 L769.44,273.99 L769.58,274.04 L769.71,274.09 L769.85,274.13 L769.98,274.16 L770.12,274.19 L770.25,274.21 L770.39,274.23 L770.53,274.25 L770.66,274.27 L770.80,274.28 L770.93,274.29 L771.07,274.30 L771.21,274.30 L771.34,274.30 L771.48,274.29 L771.61,274.28 L771.75,274.27 L771.89,274.25 L772.02,274.23 L772.16,274.21 L772.29,274.19 L772.43,274.16 L772.56,274.13 L772.70,274.09 L772.84,274.04 L772.97,273.99 L773.11,273.92 L773.24,273.84 L773.38,273.75 L773.52,273.65 L773.65,273.52 L773.79,273.37 L773.92,273.20 L774.06,272.99 L774.20,272.74 L774.33,272.45 L774.47,272.11 L774.60,271.71 L774.74,271.23 L774.88,270.67 L775.01,270.01 L775.15,269.24 L775.28,268.32 L775.42,267.25 L775.55,265.98 L775.69,264.50 L775.83,262.76 L775.96,260.72 L776.10,258.34 L776.23,255.56 L776.37,252.32 L776.51,248.56 L776.64,244.20 L776.78,239.18 L776.91,233.40 L777.05,226.80 L777.19,219.29 L777.32,210.81 L777.46,201.31 L777.59,190.77 L777.73,179.19 L777.87,166.64 L778.00,153.24 L778.14,139.18 L778.27,124.73 L778.41,110.25 L778.54,96.16 L778.68,82.97 L778.82,71.20 L778.95,61.37 L779.09,53.96 L779.22,49.34 L779.36,47.78 L779.50,49.34 L779.63,53.96 L779.77,61.37 L779.90,71.20 L780.04,82.97 L780.18,96.16 L780.31,110.25 L780.45,124.73 L780.58,139.18 L780.72,153.24 L780.85,166.64 L780.99,179.19 L781.13,190.77 L781.26,201.31 L781.40,210.81 L781.53,219.29 L781.67,226.80 L781.81,233.40 L781.94,239.18 L782.08,244.20 L782.21,248.56 L782.35,252.32 L782.49,255.56 L782.62,258.34 L782.76,260.72 L782.89,262.76 L783.03,264.50 L783.17,265.98 L783.30,267.25 L783.44,268.32 L783.57,269.24 L783.71,270.01 L783.84,270.67 L783.98,271.23 L784.12,271.71 L784.25,272.11 L784.39,272.45 L784.52,272.74 L784.66,272.99 L784.80,273.20 L784.93,273.37 L785.07,273.52 L785.20,273.65 L785.34,273.75 L785.48,273.84 L785.61,273.92 L785.75,273.99 L785.88,274.04 L786.02,274.09 L786.15,274.13 L786.29,274.16 L786.43,274.19 L786.56,274.21 L786.70,274.23 L786.83,274.25 L786.97,274.27 L787.11,274.28 L787.24,274.29 L787.38,274.30 L787.51,274.30 L787.65,274.30 L787.79,274.29 L787.92,274.28 L788.06,274.27 L788.19,274.25 L788.33,274.23 L788.47,274.21 L788.60,274.19 L788.74,274.16 L788.87,274.13 L789.01,274.09 L789.14,274.04 L789.28,273.99 L789.42,273.92 L789.55,273.84 L789.69,273.75 L789.82,273.65 L789.96,273.52 L790.10,273.37 L790.23,273.20 L790.37,272.99 L790.50,272.74 L790.64,272.45 L790.78,272.11 L790.91,271.71 L791.05,271.23 L791.18,270.67 L791.32,270.01 L791.46,269.24 L791.59,268.32 L791.73,267.25 L791.86,265.98 L792.00,264.50 L792.13,262.76 L792.27,260.72 L792.41,258.34 L792.54,255.56 L792.68,252.32 L792.81,248.56 L792.95,244.20 L793.09,239.18 L793.22,233.40 L793.36,226.80 L793.49,219.29 L793.63,210.81 L793.77,201.31 L793.90,190.77 L794.04,179.19 L794.17,166.64 L794.31,153.24 L794.44,139.18 L794.58,124.73 L794.72,110.25 L794.85,96.16 L794.99,82.97 L795.12,71.20 L795.26,61.37 L795.40,53.96 L795.53,49.34 L795.67,47.78 L795.80,49.34 L795.94,53.96 L796.08,61.37 L796.21,71.20 L796.35,82.97 L796.48,96.16 L796.62,110.25 L796.76,124.73 L796.89,139.18 L797.03,153.24 L797.16,166.64 L797.30,179.19 L797.43,190.77 L797.57,201.31 L797.71,210.81 L797.84,219.29 L797.98,226.80 L798.11,233.40 L798.25,239.18 L798.39,244.20 L798.52,248.56 L798.66,252.32 L798.79,255.56 L798.93,258.34 L799.07,260.72 L799.20,262.76 L799.34,264.50 L799.47,265.98 L799.61,267.25 L799.74,268.32 L799.88,269.24 L800.02,270.01 L800.15,270.67 L800.29,271.23 L800.42,271.71 L800.56,272.11 L800.70,272.45 L800.83,272.74 L800.97,272.99 L801.10,273.20 L801.24,273.37 L801.38,273.52 L801.51,273.65 L801.65,273.75 L801.78,273.84 L801.92,273.92 L802.06,273.99 L802.19,274.04 L802.33,274.09 L802.46,274.13 L802.60,274.16 L802.73,274.19 L802.87,274.21 L803.01,274.23 L803.14,274.25 L803.28,274.27 L803.41,274.28 L803.55,274.29 L803.69,274.30 L803.82,274.30 L803.96,274.30 L804.09,274.29 L804.23,274.28 L804.37,274.27 L804.50,274.25 L804.64,274.23 L804.77,274.21 L804.91,274.19 L805.05,274.16 L805.18,274.13 L805.32,274.09 L805.45,274.04 L805.59,273.99 L805.72,273.92 L805.86,273.84 L806.00,273.75 L806.13,273.65 L806.27,273.52 L806.40,273.37 L806.54,273.20 L806.68,272.99 L806.81,272.74 L806.95,272.45 L807.08,272.11 L807.22,271.71 L807.36,271.23 L807.49,270.67 L807.63,270.01 L807.76,269.24 L807.90,268.32 L808.03,267.25 L808.17,265.98 L808.31,264.50 L808.44,262.76 L808.58,260.72 L808.71,258.34 L808.85,255.56 L808.99,252.32 L809.12,248.56 L809.26,244.20 L809.39,239.18 L809.53,233.40 L809.67,226.80 L809.80,219.29 L809.94,210.81 L810.07,201.31 L810.21,190.77 L810.35,179.19 L810.48,166.64 L810.62,153.24 L810.75,139.18 L810.89,124.73 L811.02,110.25 L811.16,96.16 L811.30,82.97 L811.43,71.20 L811.57,61.37 L811.70,53.96 L811.84,49.34 L811.98,47.78 L812.11,49.34 L812.25,53.96 L812.38,61.37 L812.52,71.20 L812.66,82.97 L812.79,96.16 L812.93,110.25 L813.06,124.73 L813.20,139.18 L813.33,153.24 L813.47,166.64 L813.61,179.19 L813.74,190.77 L813.88,201.31 L814.01,210.81 L814.15,219.29 L814.29,226.80 L814.42,233.40 L814.56,239.18 L814.69,244.20 L814.83,248.56 L814.97,252.32 L815.10,255.56 L815.24,258.34 L815.37,260.72 L815.51,262.76 L815.65,264.50 L815.78,265.98 L815.92,267.25 L816.05,268.32 L816.19,269.24 L816.32,270.01 L816.46,270.67 L816.60,271.23 L816.73,271.71 L816.87,272.11 L817.00,272.45 L817.14,272.74 L817.28,272.99 L817.41,273.20 L817.55,273.37 L817.68,273.52 L817.82,273.65 L817.96,273.75 L818.09,273.84 L818.23,273.92 L818.36,273.99 L818.50,274.04 L818.64,274.09 L818.77,274.13 L818.91,274.16 L819.04,274.19 L819.18,274.21 L819.31,274.23 L819.45,274.25 L819.59,274.27 L819.72,274.28 L819.86,274.29 L819.99,274.30 L820.13,274.30 L820.27,274.30 L820.40,274.29 L820.54,274.28 L820.67,274.27 L820.81,274.25 L820.95,274.23 L821.08,274.21 L821.22,274.19 L821.35,274.16 L821.49,274.13 L821.62,274.09 L821.76,274.04 L821.90,273.99 L822.03,273.92 L822.17,273.84 L822.30,273.75 L822.44,273.65 L822.58,273.52 L822.71,273.37 L822.85,273.20 L822.98,272.99 L823.12,272.74 L823.26,272.45 L823.39,272.11 L823.53,271.71 L823.66,271.23 L823.80,270.67 L823.94,270.01 L824.07,269.24 L824.21,268.32 L824.34,267.25 L824.48,265.98 L824.61,264.50 L824.75,262.76 L824.89,260.72 L825.02,258.34 L825.16,255.56 L825.29,252.32 L825.43,248.56 L825.57,244.20 L825.70,239.18 L825.84,233.40 L825.97,226.80 L826.11,219.29 L826.25,210.81 L826.38,201.31 L826.52,190.77 L826.65,179.19 L826.79,166.64 L826.92,153.24 L827.06,139.18 L827.20,124.73 L827.33,110.25 L827.47,96.16 L827.60,82.97 L827.74,71.20 L827.88,61.37 L828.01,53.96 L828.15,49.34 L828.28,47.78 L828.42,49.34 L828.56,53.96 L828.69,61.37 L828.83,71.20 L828.96,82.97 L829.10,96.16 L829.24,110.25 L829.37,124.73 L829.51,139.18 L829.64,153.24 L829.78,166.64 L829.91,179.19 L830.05,190.77 L830.19,201.31 L830.32,210.81 L830.46,219.29 L830.59,226.80 L830.73,233.40 L830.87,239.18 L831.00,244.20 L831.14,248.56 L831.27,252.32 L831.41,255.56 L831.55,258.34 L831.68,260.72 L831.82,262.76 L831.95,264.50 L832.09,265.98 L832.23,267.25 L832.36,268.32 L832.50,269.24 L832.63,270.01 L832.77,270.67 L832.90,271.23 L833.04,271.71 L833.18,272.11 L833.31,272.45 L833.45,272.74 L833.58,272.99 L833.72,273.20 L833.86,273.37 L833.99,273.52 L834.13,273.65 L834.26,273.75 L834.40,273.84 L834.54,273.92 L834.67,273.99 L834.81,274.04 L834.94,274.09 L835.08,274.13 L835.21,274.16 L835.35,274.19 L835.49,274.21 L835.62,274.23 L835.76,274.25 L835.89,274.27 L836.03,274.28 L836.17,274.29 L836.30,274.30 L836.44,274.30 L836.57,274.30 L836.71,274.29 L836.85,274.28 L836.98,274.27 L837.12,274.25 L837.25,274.23 L837.39,274.21 L837.53,274.19 L837.66,274.16 L837.80,274.13 L837.93,274.09 L838.07,274.04 L838.20,273.99 L838.34,273.92 L838.48,273.84 L838.61,273.75 L838.75,273.65 L838.88,273.52 L839.02,273.37 L839.16,273.20 L839.29,272.99 L839.43,272.74 L839.56,272.45 L839.70,272.11 L839.84,271.71 L839.97,271.23 L840.11,270.67 L840.24,270.01 L840.38,269.24 L840.51,268.32 L840.65,267.25 L840.79,265.98 L840.92,264.50 L841.06,262.76 L841.19,260.72 L841.33,258.34 L841.47,255.56 L841.60,252.32 L841.74,248.56 L841.87,244.20 L842.01,239.18 L842.15,233.40 L842.28,226.80 L842.42,219.29 L842.55,210.81 L842.69,201.31 L842.83,190.77 L842.96,179.19 L843.10,166.64 L843.23,153.24 L843.37,139.18 L843.50,124.73 L843.64,110.25 L843.78,96.16 L843.91,82.97 L844.05,71.20 L844.18,61.37 L844.32,53.96 L844.46,49.34 L844.59,47.78 L844.73,49.34 L844.86,53.96 L845.00,61.37 L845.14,71.20 L845.27,82.97 L845.41,96.16 L845.54,110.25 L845.68,124.73 L845.82,139.18 L845.95,153.24 L846.09,166.64 L846.22,179.19 L846.36,190.77 L846.49,201.31 L846.63,210.81 L846.77,219.29 L846.90,226.80 L847.04,233.40 L847.17,239.18 L847.31,244.20 L847.45,248.56 L847.58,252.32 L847.72,255.56 L847.85,258.34 L847.99,260.72 L848.13,262.76 L848.26,264.50 L848.40,265.98 L848.53,267.25 L848.67,268.32 L848.80,269.24 L848.94,270.01 L849.08,270.67 L849.21,271.23 L849.35,271.71 L849.48,272.11 L849.62,272.45 L849.76,272.74 L849.89,272.99 L850.03,273.20 L850.16,273.37 L850.30,273.52 L850.44,273.65 L850.57,273.75 L850.71,273.84 L850.84,273.92 L850.98,273.99 L851.12,274.04 L851.25,274.09 L851.39,274.13 L851.52,274.16 L851.66,274.19 L851.79,274.21 L851.93,274.23 L852.07,274.25 L852.20,274.27 L852.34,274.28 L852.47,274.29 L852.61,274.30 L852.75,274.30 L852.88,274.30 L853.02,274.29 L853.15,274.28 L853.29,274.27 L853.43,274.25 L853.56,274.23 L853.70,274.21 L853.83,274.19 L853.97,274.16 L854.11,274.13 L854.24,274.09 L854.38,274.04 L854.51,273.99 L854.65,273.92 L854.78,273.84 L854.92,273.75 L855.06,273.65 L855.19,273.52 L855.33,273.37 L855.46,273.20 L855.60,272.99 L855.74,272.74 L855.87,272.45 L856.01,272.11 L856.14,271.71 L856.28,271.23 L856.42,270.67 L856.55,270.01 L856.69,269.24 L856.82,268.32 L856.96,267.25 L857.09,265.98 L857.23,264.50 L857.37,262.76 L857.50,260.72 L857.64,258.34 L857.77,255.56 L857.91,252.32 L858.05,248.56 L858.18,244.20 L858.32,239.18 L858.45,233.40 L858.59,226.80 L858.73,219.29 L858.86,210.81 L859.00,201.31 L859.13,190.77 L859.27,179.19 L859.41,166.64 L859.54,153.24 L859.68,139.18 L859.81,124.73 L859.95,110.25 L860.08,96.16 L860.22,82.97 L860.36,71.20 L860.49,61.37 L860.63,53.96 L860.76,49.34 L860.90,47.78 L861.04,49.34 L861.17,53.96 L861.31,61.37 L861.44,71.20 L861.58,82.97 L861.72,96.16 L861.85,110.25 L861.99,124.73 L862.12,139.18 L862.26,153.24 L862.39,166.64 L862.53,179.19 L862.67,190.77 L862.80,201.31 L862.94,210.81 L863.07,219.29 L863.21,226.80 L863.35,233.40 L863.48,239.18 L863.62,244.20 L863.75,248.56 L863.89,252.32 L864.03,255.56 L864.16,258.34 L864.30,260.72 L864.43,262.76 L864.57,264.50 L864.71,265.98 L864.84,267.25 L864.98,268.32 L865.11,269.24 L865.25,270.01 L865.38,270.67 L865.52,271.23 L865.66,271.71 L865.79,272.11 L865.93,272.45 L866.06,272.74 L866.20,272.99 L866.34,273.20 L866.47,273.37 L866.61,273.52 L866.74,273.65 L866.88,273.75 L867.02,273.84 L867.15,273.92 L867.29,273.99 L867.42,274.04 L867.56,274.09 L867.69,274.13 L867.83,274.16 L867.97,274.19 L868.10,274.21 L868.24,274.23 L868.37,274.25 L868.51,274.27 L868.65,274.28 L868.78,274.29 L868.92,274.30 L869.05,274.30 L869.19,274.30 L869.33,274.29 L869.46,274.28 L869.60,274.27 L869.73,274.25 L869.87,274.23 L870.01,274.21 L870.14,274.19 L870.28,274.16 L870.41,274.13 L870.55,274.09 L870.68,274.04 L870.82,273.99 L870.96,273.92 L871.09,273.84 L871.23,273.75 L871.36,273.65 L871.50,273.52 L871.64,273.37 L871.77,273.20 L871.91,272.99 L872.04,272.74 L872.18,272.45 L872.32,272.11 L872.45,271.71 L872.59,271.23 L872.72,270.67 L872.86,270.01 L873.00,269.24 L873.13,268.32 L873.27,267.25 L873.40,265.98 L873.54,264.50 L873.67,262.76 L873.81,260.72 L873.95,258.34 L874.08,255.56 L874.22,252.32 L874.35,248.56 L874.49,244.20 L874.63,239.18 L874.76,233.40 L874.90,226.80 L875.03,219.29 L875.17,210.81 L875.31,201.31 L875.44,190.77 L875.58,179.19 L875.71,166.64 L875.85,153.24 L875.98,139.18 L876.12,124.73 L876.26,110.25 L876.39,96.16 L876.53,82.97 L876.66,71.20 L876.80,61.37 L876.94,53.96 L877.07,49.34 L877.21,47.78 L877.34,49.34 L877.48,53.96 L877.62,61.37 L877.75,71.20 L877.89,82.97 L878.02,96.16 L878.16,110.25 L878.30,124.73 L878.43,139.18 L878.57,153.24 L878.70,166.64 L878.84,179.19 L878.97,190.77 L879.11,201.31 L879.25,210.81 L879.38,219.29 L879.52,226.80 L879.65,233.40 L879.79,239.18 L879.93,244.20 L880.06,248.56 L880.20,252.32 L880.33,255.56 L880.47,258.34 L880.61,260.72 L880.74,262.76 L880.88,264.50 L881.01,265.98 L881.15,267.25 L881.28,268.32 L881.42,269.24 L881.56,270.01 L881.69,270.67 L881.83,271.23 L881.96,271.71 L882.10,272.11 L882.24,272.45 L882.37,272.74 L882.51,272.99 L882.64,273.20 L882.78,273.37 L882.92,273.52 L883.05,273.65 L883.19,273.75 L883.32,273.84 L883.46,273.92 L883.60,273.99 L883.73,274.04 L883.87,274.09 L884.00,274.13 L884.14,274.16 L884.27,274.19 L884.41,274.21 L884.55,274.23 L884.68,274.25 L884.82,274.27 L884.95,274.28 L885.09,274.29 L885.23,274.30 L885.36,274.30 L885.50,274.30 L885.63,274.29 L885.77,274.28 L885.91,274.27 L886.04,274.25 L886.18,274.23 L886.31,274.21 L886.45,274.19 L886.59,274.16 L886.72,274.13 L886.86,274.09 L886.99,274.04 L887.13,273.99 L887.26,273.92 L887.40,273.84 L887.54,273.75 L887.67,273.65 L887.81,273.52 L887.94,273.37 L888.08,273.20 L888.22,272.99 L888.35,272.74 L888.49,272.45 L888.62,272.11 L888.76,271.71 L888.90,271.23 L889.03,270.67 L889.17,270.01 L889.30,269.24 L889.44,268.32 L889.57,267.25 L889.71,265.98 L889.85,264.50 L889.98,262.76 L890.12,260.72 L890.25,258.34 L890.39,255.56 L890.53,252.32 L890.66,248.56 L890.80,244.20 L890.93,239.18 L891.07,233.40 L891.21,226.80 L891.34,219.29 L891.48,210.81 L891.61,201.31 L891.75,190.77 L891.89,179.19 L892.02,166.64 L892.16,153.24 L892.29,139.18 L892.43,124.73 L892.56,110.25 L892.70,96.16 L892.84,82.97 L892.97,71.20 L893.11,61.37 L893.24,53.96 L893.38,49.34 L893.52,47.78 L893.65,49.34 L893.79,53.96 L893.92,61.37 L894.06,71.20 L894.20,82.97 L894.33,96.16 L894.47,110.25 L894.60,124.73 L894.74,139.18 L894.88,153.24 L895.01,166.64 L895.15,179.19 L895.28,190.77 L895.42,201.31 L895.55,210.81 L895.69,219.29 L895.83,226.80 L895.96,233.40 L896.10,239.18 L896.23,244.20 L896.37,248.56 L896.51,252.32 L896.64,255.56 L896.78,258.34 L896.91,260.72 L897.05,262.76 L897.19,264.50 L897.32,265.98 L897.46,267.25 L897.59,268.32 L897.73,269.24 L897.86,270.01 L898.00,270.67 L898.14,271.23 L898.27,271.71 L898.41,272.11 L898.54,272.45 L898.68,272.74 L898.82,272.99 L898.95,273.20 L899.09,273.37 L899.22,273.52 L899.36,273.65 L899.50,273.75 L899.63,273.84 L899.77,273.92 L899.90,273.99 L900.04,274.04 L900.18,274.09 L900.31,274.13 L900.45,274.16 L900.58,274.19 L900.72,274.21 L900.85,274.23 L900.99,274.25 L901.13,274.27 L901.26,274.28 L901.40,274.29 L901.53,274.30 L901.67,274.30 L901.81,274.30 L901.94,274.29 L902.08,274.28 L902.21,274.27 L902.35,274.25 L902.49,274.23 L902.62,274.21 L902.76,274.19 L902.89,274.16 L903.03,274.13 L903.16,274.09 L903.30,274.04 L903.44,273.99 L903.57,273.92 L903.71,273.84 L903.84,273.75 L903.98,273.65 L904.12,273.52 L904.25,273.37 L904.39,273.20 L904.52,272.99 L904.66,272.74 L904.80,272.45 L904.93,272.11 L905.07,271.71 L905.20,271.23 L905.34,270.67 L905.48,270.01 L905.61,269.24 L905.75,268.32 L905.88,267.25 L906.02,265.98 L906.15,264.50 L906.29,262.76 L906.43,260.72 L906.56,258.34 L906.70,255.56 L906.83,252.32 L906.97,248.56 L907.11,244.20 L907.24,239.18 L907.38,233.40 L907.51,226.80 L907.65,219.29 L907.79,210.81 L907.92,201.31 L908.06,190.77 L908.19,179.19 L908.33,166.64 L908.46,153.24 L908.60,139.18 L908.74,124.73 L908.87,110.25 L909.01,96.16 L909.14,82.97 L909.28,71.20 L909.42,61.37 L909.55,53.96 L909.69,49.34 L909.82,47.78 L909.96,49.34 L910.10,53.96 L910.23,61.37 L910.37,71.20 L910.50,82.97 L910.64,96.16 L910.78,110.25 L910.91,124.73 L911.05,139.18 L911.18,153.24 L911.32,166.64 L911.45,179.19 L911.59,190.77 L911.73,201.31 L911.86,210.81 L912.00,219.29 L912.13,226.80 L912.27,233.40 L912.41,239.18 L912.54,244.20 L912.68,248.56 L912.81,252.32 L912.95,255.56 L913.09,258.34 L913.22,260.72 L913.36,262.76 L913.49,264.50 L913.63,265.98 L913.77,267.25 L913.90,268.32 L914.04,269.24 L914.17,270.01 L914.31,270.67 L914.44,271.23 L914.58,271.71 L914.72,272.11 L914.85,272.45 L914.99,272.74 L915.12,272.99 L915.26,273.20 L915.40,273.37 L915.53,273.52 L915.67,273.65 L915.80,273.75 L915.94,273.84 L916.08,273.92 L916.21,273.99 L916.35,274.04 L916.48,274.09 L916.62,274.13 L916.75,274.16 L916.89,274.19 L917.03,274.21 L917.16,274.23 L917.30,274.25 L917.43,274.27 L917.57,274.28 L917.71,274.29 L917.84,274.30 L917.98,274.30 L918.11,274.30 L918.25,274.29 L918.39,274.28 L918.52,274.27 L918.66,274.25 L918.79,274.23 L918.93,274.21 L919.07,274.19 L919.20,274.16 L919.34,274.13 L919.47,274.09 L919.61,274.04 L919.74,273.99 L919.88,273.92 L920.02,273.84 L920.15,273.75 L920.29,273.65 L920.42,273.52 L920.56,273.37 L920.70,273.20 L920.83,272.99 L920.97,272.74 L921.10,272.45 L921.24,272.11 L921.38,271.71 L921.51,271.23 L921.65,270.67 L921.78,270.01 L921.92,269.24 L922.05,268.32 L922.19,267.25 L922.33,265.98 L922.46,264.50 L922.60,262.76 L922.73,260.72 L922.87,258.34 L923.01,255.56 L923.14,252.32 L923.28,248.56 L923.41,244.20 L923.55,239.18 L923.69,233.40 L923.82,226.80 L923.96,219.29 L924.09,210.81 L924.23,201.31 L924.37,190.77 L924.50,179.19 L924.64,166.64 L924.77,153.24 L924.91,139.18 L925.04,124.73 L925.18,110.25 L925.32,96.16 L925.45,82.97 L925.59,71.20 L925.72,61.37 L925.86,53.96 L926.00,49.34 L926.13,47.78 L926.27,49.34 L926.40,53.96 L926.54,61.37 L926.68,71.20 L926.81,82.97 L926.95,96.16 L927.08,110.25 L927.22,124.73 L927.36,139.18 L927.49,153.24 L927.63,166.64 L927.76,179.19 L927.90,190.77 L928.03,201.31 L928.17,210.81 L928.31,219.29 L928.44,226.80 L928.58,233.40 L928.71,239.18 L928.85,244.20 L928.99,248.56 L929.12,252.32 L929.26,255.56 L929.39,258.34 L929.53,260.72 L929.67,262.76 L929.80,264.50 L929.94,265.98 L930.07,267.25 L930.21,268.32 L930.34,269.24 L930.48,270.01 L930.62,270.67 L930.75,271.23 L930.89,271.71 L931.02,272.11 L931.16,272.45 L931.30,272.74 L931.43,272.99 L931.57,273.20 L931.70,273.37 L931.84,273.52 L931.98,273.65 L932.11,273.75 L932.25,273.84 L932.38,273.92 L932.52,273.99 L932.66,274.04 L932.79,274.09 L932.93,274.13 L933.06,274.16 L933.20,274.19 L933.33,274.21 L933.47,274.23 L933.61,274.25 L933.74,274.27 L933.88,274.28 L934.01,274.29 L934.15,274.30 L934.29,274.30 L934.42,274.30 L934.56,274.29 L934.69,274.28 L934.83,274.27 L934.97,274.25 L935.10,274.23 L935.24,274.21 L935.37,274.19 L935.51,274.16 L935.64,274.13 L935.78,274.09 L935.92,274.04 L936.05,273.99 L936.19,273.92 L936.32,273.84 L936.46,273.75 L936.60,273.65 L936.73,273.52 L936.87,273.37 L937.00,273.20 L937.14,272.99 L937.28,272.74 L937.41,272.45 L937.55,272.11 L937.68,271.71 L937.82,271.23 L937.96,270.67 L938.09,270.01 L938.23,269.24 L938.36,268.32 L938.50,267.25 L938.63,265.98 L938.77,264.50 L938.91,262.76 L939.04,260.72 L939.18,258.34 L939.31,255.56 L939.45,252.32 L939.59,248.56 L939.72,244.20 L939.86,239.18 L939.99,233.40 L940.13,226.80 L940.27,219.29 L940.40,210.81 L940.54,201.31 L940.67,190.77 L940.81,179.19 L940.95,166.64 L941.08,153.24 L941.22,139.18 L941.35,124.73 L941.49,110.25 L941.62,96.16 L941.76,82.97 L941.90,71.20 L942.03,61.37 L942.17,53.96 L942.30,49.34 L942.44,47.78 L942.58,49.34 L942.71,53.96 L942.85,61.37 L942.98,71.20 L943.12,82.97 L943.26,96.16 L943.39,110.25 L943.53,124.73 L943.66,139.18 L943.80,153.24 L943.93,166.64 L944.07,179.19 L944.21,190.77 L944.34,201.31 L944.48,210.81 L944.61,219.29 L944.75,226.80 L944.89,233.40 L945.02,239.18 L945.16,244.20 L945.29,248.56 L945.43,252.32 L945.57,255.56 L945.70,258.34 L945.84,260.72 L945.97,262.76 L946.11,264.50 L946.25,265.98 L946.38,267.25 L946.52,268.32 L946.65,269.24 L946.79,270.01 L946.92,270.67 L947.06,271.23 L947.20,271.71 L947.33,272.11 L947.47,272.45 L947.60,272.74 L947.74,272.99 L947.88,273.20 L948.01,273.37 L948.15,273.52 L948.28,273.65 L948.42,273.75 L948.56,273.84 L948.69,273.92 L948.83,273.99 L948.96,274.04 L949.10,274.09 L949.23,274.13 L949.37,274.16 L949.51,274.19 L949.64,274.21 L949.78,274.23 L949.91,274.25 L950.05,274.27 L950.19,274.28 L950.32,274.29 L950.46,274.30 L950.59,274.30 L950.73,274.30 L950.87,274.29 L951.00,274.28 L951.14,274.27 L951.27,274.25 L951.41,274.23 L951.55,274.21 L951.68,274.19 L951.82,274.16 L951.95,274.13 L952.09,274.09 L952.22,274.04 L952.36,273.99 L952.50,273.92 L952.63,273.84 L952.77,273.75 L952.90,273.65 L953.04,273.52 L953.18,273.37 L953.31,273.20 L953.45,272.99 L953.58,272.74 L953.72,272.45 L953.86,272.11 L953.99,271.71 L954.13,271.23 L954.26,270.67 L954.40,270.01 L954.54,269.24 L954.67,268.32 L954.81,267.25 L954.94,265.98 L955.08,264.50 L955.21,262.76 L955.35,260.72 L955.49,258.34 L955.62,255.56 L955.76,252.32 L955.89,248.56 L956.03,244.20 L956.17,239.18 L956.30,233.40 L956.44,226.80 L956.57,219.29 L956.71,210.81 L956.85,201.31 L956.98,190.77 L957.12,179.19 L957.25,166.64 L957.39,153.24 L957.52,139.18 L957.66,124.73 L957.80,110.25 L957.93,96.16 L958.07,82.97 L958.20,71.20 L958.34,61.37 L958.48,53.96 L958.61,49.34 L958.75,47.78 L958.88,49.34 L959.02,53.96 L959.16,61.37 L959.29,71.20 L959.43,82.97 L959.56,96.16 L959.70,110.25 L959.84,124.73 L959.97,139.18 L960.11,153.24 L960.24,166.64 L960.38,179.19 L960.51,190.77 L960.65,201.31 L960.79,210.81 L960.92,219.29 L961.06,226.80 L961.19,233.40 L961.33,239.18 L961.47,244.20 L961.60,248.56 L961.74,252.32 L961.87,255.56 L962.01,258.34 L962.15,260.72 L962.28,262.76 L962.42,264.50 L962.55,265.98 L962.69,267.25 L962.82,268.32 L962.96,269.24 L963.10,270.01 L963.23,270.67 L963.37,271.23 L963.50,271.71 L963.64,272.11 L963.78,272.45 L963.91,272.74 L964.05,272.99 L964.18,273.20 L964.32,273.37 L964.46,273.52 L964.59,273.65 L964.73,273.75 L964.86,273.84 L965.00,273.92 L965.14,273.99 L965.27,274.04 L965.41,274.09 L965.54,274.13 L965.68,274.16 L965.81,274.19 L965.95,274.21 L966.09,274.23 L966.22,274.25 L966.36,274.27 L966.49,274.28 L966.63,274.29 L966.77,274.30 L966.90,274.30 L967.04,274.30 L967.17,274.29 L967.31,274.28 L967.45,274.27 L967.58,274.25 L967.72,274.23 L967.85,274.21 L967.99,274.19 L968.13,274.16 L968.26,274.13 L968.40,274.09 L968.53,274.04 L968.67,273.99 L968.80,273.92 L968.94,273.84 L969.08,273.75 L969.21,273.65 L969.35,273.52 L969.48,273.37 L969.62,273.20 L969.76,272.99 L969.89,272.74 L970.03,272.45 L970.16,272.11 L970.30,271.71 L970.44,271.23 L970.57,270.67 L970.71,270.01 L970.84,269.24 L970.98,268.32 L971.11,267.25 L971.25,265.98 L971.39,264.50 L971.52,262.76 L971.66,260.72 L971.79,258.34 L971.93,255.56 L972.07,252.32 L972.20,248.56 L972.34,244.20 L972.47,239.18 L972.61,233.40 L972.75,226.80 L972.88,219.29 L973.02,210.81 L973.15,201.31 L973.29,190.77 L973.43,179.19 L973.56,166.64 L973.70,153.24 L973.83,139.18 L973.97,124.73 L974.10,110.25 L974.24,96.16 L974.38,82.97 L974.51,71.20 L974.65,61.37 L974.78,53.96 L974.92,49.34 L975.06,47.78 L975.19,49.34 L975.33,53.96 L975.46,61.37 L975.60,71.20 L975.74,82.97 L975.87,96.16 L976.01,110.25 L976.14,124.73 L976.28,139.18 L976.41,153.24 L976.55,166.64 L976.69,179.19 L976.82,190.77 L976.96,201.31 L977.09,210.81 L977.23,219.29 L977.37,226.80 L977.50,233.40 L977.64,239.18 L977.77,244.20 L977.91,248.56 L978.05,252.32 L978.18,255.56 L978.32,258.34 L978.45,260.72 L978.59,262.76 L978.73,264.50 L978.86,265.98 L979.00,267.25 L979.13,268.32 L979.27,269.24 L979.40,270.01 L979.54,270.67 L979.68,271.23 L979.81,271.71 L979.95,272.11 L980.08,272.45 L980.22,272.74 L980.36,272.99 L980.49,273.20 L980.63,273.37 L980.76,273.52 L980.90,273.65 L981.04,273.75 L981.17,273.84 L981.31,273.92 L981.44,273.99 L981.58,274.04 L981.72,274.09 L981.85,274.13 L981.99,274.16 L982.12,274.19 L982.26,274.21 L982.39,274.23 L982.53,274.25 L982.67,274.27 L982.80,274.28 L982.94,274.29 L983.07,274.30 L983.21,274.30 L984.20,274.30" stroke="#8b0000" stroke-width="5.3" stroke-linecap="square"/>
<path d="M86.40,274.90 L89.73,274.90 L93.06,274.90 L96.39,274.90 L99.71,274.90 L103.04,274.90 L106.37,274.90 L109.70,274.90 L113.03,274.90 L116.36,274.90 L119.69,274.90 L123.01,274.90 L126.34,274.90 L129.67,274.90 L133.00,274.90 L136.33,274.90 L139.66,274.90 L142.99,274.90 L146.31,274.90 L149.64,274.90 L152.97,274.90 L156.30,274.90 L159.63,274.90 L162.96,274.90 L166.29,274.90 L169.61,274.90 L172.94,274.90 L176.27,274.90 L179.60,274.90 L182.93,274.90 L186.26,274.90 L189.59,274.90 L192.91,274.90 L196.24,274.90 L199.57,274.90 L202.90,274.90 L206.23,274.90 L209.56,274.90 L212.89,274.90 L216.21,274.90 L219.54,274.90 L222.87,274.90 L226.20,274.90 L229.53,274.90 L232.86,274.90 L236.19,274.90 L239.51,274.90 L242.84,274.90 L246.17,274.90 L249.50,274.90 L249.91,274.90 L250.32,274.90 L250.73,274.90 L251.14,274.90 L251.55,274.90 L251.96,274.90 L252.36,274.90 L252.77,274.90 L253.18,274.90 L253.59,274.90 L254.00,274.90 L254.41,274.90 L254.82,274.89 L255.23,274.89 L255.64,274.89 L256.05,274.89 L256.46,274.89 L256.87,274.89 L257.28,274.89 L257.69,274.89 L258.09,274.89 L258.50,274.89 L258.91,274.89 L259.32,274.89 L259.73,274.89 L260.14,274.89 L260.55,274.89 L260.96,274.89 L261.37,274.89 L261.78,274.89 L262.19,274.89 L262.60,274.89 L263.01,274.89 L263.42,274.89 L263.82,274.88 L264.23,274.88 L264.64,274.88 L265.05,274.88 L265.46,274.88 L265.87,274.88 L266.28,274.88 L266.69,274.88 L267.10,274.88 L267.51,274.88 L267.92,274.88 L268.33,274.87 L268.74,274.87 L269.15,274.87 L269.55,274.87 L269.96,274.87 L270.37,274.87 L270.78,274.87 L271.19,274.86 L271.60,274.86 L272.01,274.86 L272.42,274.86 L272.83,274.86 L273.24,274.85 L273.65,274.85 L274.06,274.85 L274.47,274.85 L274.87,274.84 L275.28,274.84 L275.69,274.84 L276.10,274.83 L276.51,274.83 L276.92,274.83 L277.33,274.82 L277.74,274.82 L278.15,274.82 L278.56,274.81 L278.97,274.81 L279.38,274.80 L279.79,274.80 L280.20,274.79 L280.60,274.79 L281.01,274.78 L281.42,274.78 L281.83,274.77 L282.24,274.76 L282.65,274.76 L283.06,274.75 L283.47,274.74 L283.88,274.73 L284.29,274.73 L284.70,274.72 L285.11,274.71 L285.52,274.70 L285.93,274.69 L286.33,274.68 L286.74,274.67 L287.15,274.66 L287.56,274.64 L287.97,274.63 L288.38,274.62 L288.79,274.60 L289.20,274.59 L289.61,274.57 L290.02,274.56 L290.43,274.54 L290.84,274.52 L291.25,274.50 L291.66,274.48 L292.06,274.46 L292.47,274.44 L292.88,274.42 L293.29,274.40 L293.70,274.37 L294.11,274.34 L294.52,274.32 L294.93,274.29 L295.34,274.26 L295.75,274.23 L296.16,274.19 L296.57,274.16 L296.98,274.12 L297.38,274.08 L297.79,274.04 L298.20,274.00 L298.61,273.96 L299.02,273.91 L299.43,273.87 L299.84,273.81 L300.25,273.76 L300.66,273.71 L301.07,273.65 L301.48,273.59 L301.89,273.52 L302.30,273.46 L302.71,273.39 L303.11,273.32 L303.52,273.24 L303.93,273.16 L304.34,273.08 L304.75,272.99 L305.16,272.90 L305.57,272.80 L305.98,272.70 L306.39,272.60 L306.80,272.49 L307.21,272.37 L307.62,272.26 L308.03,272.13 L308.44,272.00 L308.84,271.87 L309.25,271.73 L309.66,271.58 L310.07,271.43 L310.48,271.27 L310.89,271.10 L311.30,270.93 L311.71,270.74 L312.12,270.56 L312.53,270.36 L312.94,270.16 L313.35,269.95 L313.76,269.73 L314.17,269.50 L314.57,269.26 L314.98,269.02 L315.39,268.76 L315.80,268.50 L316.21,268.22 L316.62,267.94 L317.03,267.65 L317.44,267.35 L317.85,267.03 L318.26,266.71 L318.67,266.38 L319.08,266.03 L319.49,265.68 L319.89,265.31 L320.30,264.94 L320.71,264.55 L321.12,264.15 L321.53,263.75 L321.94,263.33 L322.35,262.90 L322.76,262.46 L323.17,262.02 L323.58,261.56 L323.99,261.09 L324.40,260.62 L324.81,260.13 L325.22,259.64 L325.62,259.13 L326.03,258.62 L326.44,258.11 L326.85,257.58 L327.26,257.05 L327.67,256.52 L328.08,255.97 L328.49,255.43 L328.90,254.88 L329.31,254.32 L329.72,253.76 L330.13,253.21 L330.54,252.64 L330.95,252.08 L331.35,251.52 L331.76,250.96 L332.17,250.39 L332.58,249.84 L332.99,249.28 L333.40,248.72 L333.81,248.17 L334.22,247.63 L334.63,247.08 L335.04,246.55 L335.45,246.02 L335.86,245.49 L336.27,244.98 L336.68,244.47 L337.08,243.96 L337.49,243.47 L337.90,242.98 L338.31,242.51 L338.72,242.04 L339.13,241.58 L339.54,241.14 L339.95,240.70 L340.36,240.27 L340.77,239.85 L341.18,239.45 L341.59,239.05 L342.00,238.66 L342.41,238.29 L342.81,237.92 L343.22,237.57 L343.63,237.22 L344.04,236.89 L344.45,236.57 L344.86,236.25 L345.27,235.95 L345.68,235.66 L346.09,235.38 L346.50,235.10 L346.91,234.84 L347.32,234.58 L347.73,234.34 L348.13,234.10 L348.54,233.87 L348.95,233.65 L349.36,233.44 L349.77,233.24 L350.18,233.04 L350.59,232.86 L351.00,232.67 L351.41,232.50 L351.82,232.33 L352.23,232.17 L352.64,232.02 L353.05,231.87 L353.46,231.73 L353.86,231.60 L354.27,231.47 L354.68,231.34 L355.09,231.23 L355.50,231.11 L355.91,231.00 L356.32,230.90 L356.73,230.80 L357.14,230.70 L357.55,230.61 L357.96,230.52 L358.37,230.44 L358.78,230.36 L359.19,230.28 L359.59,230.21 L360.00,230.14 L360.41,230.08 L360.82,230.01 L361.23,229.95 L361.64,229.89 L362.05,229.84 L362.46,229.79 L362.87,229.73 L363.28,229.69 L363.69,229.64 L364.10,229.60 L364.51,229.56 L364.92,229.52 L365.32,229.48 L365.73,229.44 L366.14,229.41 L366.55,229.37 L366.96,229.34 L367.37,229.31 L367.78,229.28 L368.19,229.26 L368.60,229.23 L369.01,229.20 L369.42,229.18 L369.83,229.16 L370.24,229.14 L370.64,229.12 L371.05,229.10 L371.46,229.08 L371.87,229.06 L372.28,229.04 L372.69,229.03 L373.10,229.01 L373.51,229.00 L373.92,228.98 L374.33,228.97 L374.74,228.96 L375.15,228.94 L375.56,228.93 L375.97,228.92 L376.37,228.91 L376.78,228.90 L377.19,228.89 L377.60,228.88 L378.01,228.87 L378.42,228.87 L378.83,228.86 L379.24,228.85 L379.65,228.84 L380.06,228.84 L380.47,228.83 L380.88,228.82 L381.29,228.82 L381.70,228.81 L382.10,228.81 L382.51,228.80 L382.92,228.80 L383.33,228.79 L383.74,228.79 L384.15,228.78 L384.56,228.78 L384.97,228.78 L385.38,228.77 L385.79,228.77 L386.20,228.77 L386.61,228.76 L387.02,228.76 L387.43,228.76 L387.83,228.75 L388.24,228.75 L388.65,228.75 L389.06,228.75 L389.47,228.74 L389.88,228.74 L390.29,228.74 L390.70,228.74 L391.11,228.74 L391.52,228.73 L391.93,228.73 L392.34,228.73 L392.75,228.73 L393.15,228.73 L393.56,228.73 L393.97,228.73 L394.38,228.72 L394.79,228.72 L395.20,228.72 L395.61,228.72 L396.02,228.72 L396.43,228.72 L396.84,228.72 L397.25,228.72 L397.66,228.72 L398.07,228.72 L398.48,228.72 L398.88,228.71 L399.29,228.71 L399.70,228.71 L400.11,228.71 L400.52,228.71 L400.93,228.71 L401.34,228.71 L401.75,228.71 L402.16,228.71 L402.57,228.71 L402.98,228.71 L403.39,228.71 L403.80,228.71 L404.21,228.71 L404.61,228.71 L405.02,228.71 L405.43,228.71 L405.84,228.71 L406.25,228.71 L406.66,228.71 L407.07,228.71 L407.48,228.71 L407.89,228.70 L408.30,228.70 L408.71,228.70 L409.12,228.70 L409.53,228.70 L409.94,228.70 L410.34,228.70 L410.75,228.70 L411.16,228.70 L411.57,228.70 L411.98,228.70 L412.39,228.70 L412.80,228.70" stroke="#a9a9a9" stroke-width="5.7" stroke-dasharray="18.6 8.02" stroke-dashoffset="0"/>
</g>
<g stroke="#000" stroke-opacity="0.58" stroke-width="1.9" stroke-dasharray="2 3.32">
<line x1="249.5" x2="249.5" y1="286.4" y2="36.3"/>
<line x1="412.8" x2="412.8" y1="286.4" y2="36.3"/>
<line x1="494.3" x2="494.3" y1="286.4" y2="36.3"/>
<line x1="656.9" x2="656.9" y1="286.4" y2="36.3"/>
</g>
<rect x="95.5" y="45.1" width="425.5" height="184.20000000000002" rx="3.3" ry="3.3" fill="#fff" fill-opacity="0.5" stroke="#cccccc" stroke-opacity="0.7" stroke-width="1.45"/>
<line x1="102.8" x2="137.6" y1="59.0" y2="59.0" stroke="#8b0000" stroke-width="5.4" stroke-linecap="square"/>
<line x1="102.8" x2="137.6" y1="84.57" y2="84.57" stroke="#a9a9a9" stroke-width="5.07" stroke-dasharray="18.6 8.02"/>
<rect x="102.7" y="104.24" width="34.9" height="11.9" fill="#008000" fill-opacity="0.15"/>
<rect x="102.7" y="129.81" width="34.9" height="11.9" fill="#0000ff" fill-opacity="0.15"/>
<rect x="102.7" y="155.38" width="34.9" height="11.9" fill="#ff0000" fill-opacity="0.15"/>
<rect x="102.7" y="180.95" width="34.9" height="11.9" fill="#800080" fill-opacity="0.12"/>
<rect x="102.7" y="206.52" width="34.9" height="11.9" fill="#ffa500" fill-opacity="0.15"/>
<g font-size="17.4">
<text x="151.0" y="64.80">Floquet / FWS state Preparation</text>
<text x="151.0" y="90.37">Bloch State Preparation</text>
<text x="151.0" y="115.94">Adiabatic Loading to the Lattice Potential</text>
<text x="151.0" y="141.51">Adiabatic Acceleration</text>
<text x="151.0" y="167.08">Quasi-Momentum Manipulaiton</text>
<text x="151.0" y="192.65">Dynamic Pulses</text>
<text x="151.0" y="218.22">LMT</text>
</g>
<rect x="87.1" y="36.3" width="896.60" height="250.10" fill="none" stroke="#000" stroke-width="2.08"/>
<g stroke="#000" stroke-width="2.08">
<line x1="87.1" x2="87.1" y1="286.4" y2="295.20"/>
<line x1="249.5" x2="249.5" y1="286.4" y2="295.20"/>
<line x1="412.8" x2="412.8" y1="286.4" y2="295.20"/>
<line x1="494.3" x2="494.3" y1="286.4" y2="295.20"/>
<line x1="656.9" x2="656.9" y1="286.4" y2="295.20"/>
<line x1="983.7" x2="983.7" y1="286.4" y2="295.20"/>
<line x1="87.1" x2="77.90" y1="275.1" y2="275.1"/>
<line x1="87.1" x2="77.90" y1="252.2" y2="252.2"/>
<line x1="87.1" x2="77.90" y1="229.1" y2="229.1"/>
</g>
<g font-size="17.4">
<text x="86.8" y="316.5" text-anchor="middle">0</text>
<text x="240.40" y="315.8"><tspan class="i">τ</tspan><tspan font-size="12.2" dy="2.8" dx="0.0">1</tspan></text>
<text x="403.70" y="315.8"><tspan class="i">τ</tspan><tspan font-size="12.2" dy="2.8" dx="0.0">2</tspan></text>
<text x="485.20" y="315.8"><tspan class="i">τ</tspan><tspan font-size="12.2" dy="2.8" dx="0.0">3</tspan></text>
<text x="647.80" y="315.8"><tspan class="i">τ</tspan><tspan font-size="12.2" dy="2.8" dx="0.0">4</tspan></text>
<text x="974.60" y="315.8"><tspan class="i">τ</tspan><tspan font-size="12.2" dy="2.8" dx="0.0">5</tspan></text>
<text x="69.3" y="281.1" text-anchor="end">0</text>
<text x="51.4" y="234.30"><tspan class="i">a</tspan><tspan class="i" font-size="12.2" dy="2.8">L</tspan></text>
<text x="35.2" y="257.40"><tspan class="i">a</tspan><tspan class="i" font-size="12.2" dy="2.8">L</tspan><tspan dy="-2.8">/2</tspan></text>
</g>
<g font-size="23.2">
<text x="33.6" y="18.7" textLength="30.9" lengthAdjust="spacingAndGlyphs">(a)</text>
<text x="51.0" y="359.5">(b)</text>
<text x="534.2" y="347.4" text-anchor="middle" class="i">t</text>
<text transform="translate(19.6,186) rotate(-90)"><tspan class="i">a</tspan><tspan class="i" font-size="16.2" dy="3.7">L</tspan><tspan dy="-3.7">(</tspan><tspan class="i">t</tspan>)</text>
<text font-size="22.4" transform="translate(68.9,484.1) rotate(-90)">|<tspan class="i">ϕ</tspan>(<tspan class="i">p</tspan>)|<tspan font-size="15.7" dy="-9.6">2</tspan></text>
</g>
<g id="p0">
<line x1="148.75" x2="148.75" y1="375.6" y2="520.8" stroke="#b0b0b0" stroke-opacity="0.35" stroke-width="1"/>
<clipPath id="cb0"><rect x="86.90" y="375.6" width="123.7" height="145.20"/></clipPath>
<path d="M85.90,520.80 L147.95,520.80 L148.30,381.60 L148.65,520.80 L211.60,520.80" fill="none" stroke="#00008b" stroke-width="7.8" stroke-linejoin="round" clip-path="url(#cb0)"/>
<rect x="86.90" y="375.6" width="123.7" height="145.20" fill="none" stroke="#000" stroke-width="2.08"/>
<g stroke="#000" stroke-width="1.9">
<line x1="86.90" x2="86.90" y1="520.8" y2="529.80"/>
<line x1="148.85" x2="148.85" y1="520.8" y2="529.80"/>
<line x1="210.60" x2="210.60" y1="520.8" y2="529.80"/>
</g>
<g font-size="17.4" text-anchor="middle">
<text x="86.30" y="551.9">−10</text>
<text x="148.75" y="551.9">0</text>
<text x="210.60" y="551.9">10</text>
</g>
<text x="124.25" y="575.0" font-size="17.4"><tspan class="i">p</tspan><tspan dx="1.9">[</tspan><tspan class="i">ħk</tspan><tspan dx="-0.8">]</tspan></text>
<text x="128.75" y="369.7" font-size="17.4"><tspan class="i">t</tspan><tspan dx="3.3">=</tspan><tspan dx="3.3">0</tspan></text>
</g>
<g id="p1">
<line x1="303.37" x2="303.37" y1="375.6" y2="520.8" stroke="#b0b0b0" stroke-opacity="0.35" stroke-width="1"/>
<clipPath id="cb1"><rect x="241.52" y="375.6" width="123.7" height="145.20"/></clipPath>
<path d="M240.52,520.80 L265.46,520.80 L265.81,520.20 L266.16,520.80 L277.83,520.80 L278.18,510.20 L278.53,520.80 L290.20,520.80 L290.55,450.00 L290.90,520.80 L302.57,520.80 L302.92,381.80 L303.27,520.80 L314.94,520.80 L315.29,450.00 L315.64,520.80 L327.31,520.80 L327.66,510.20 L328.01,520.80 L339.68,520.80 L340.03,520.20 L340.38,520.80 L366.22,520.80" fill="none" stroke="#00008b" stroke-width="7.8" stroke-linejoin="round" clip-path="url(#cb1)"/>
<rect x="241.52" y="375.6" width="123.7" height="145.20" fill="none" stroke="#000" stroke-width="2.08"/>
<g stroke="#000" stroke-width="1.9">
<line x1="241.52" x2="241.52" y1="520.8" y2="529.80"/>
<line x1="303.47" x2="303.47" y1="520.8" y2="529.80"/>
<line x1="365.22" x2="365.22" y1="520.8" y2="529.80"/>
</g>
<g font-size="17.4" text-anchor="middle">
<text x="240.92" y="551.9">−10</text>
<text x="303.37" y="551.9">0</text>
<text x="365.22" y="551.9">10</text>
</g>
<text x="278.87" y="575.0" font-size="17.4"><tspan class="i">p</tspan><tspan dx="1.9">[</tspan><tspan class="i">ħk</tspan><tspan dx="-0.8">]</tspan></text>
<text x="279.97" y="369.7" font-size="17.4"><tspan class="i">t</tspan><tspan dx="3.3">=</tspan><tspan dx="3.3" class="i">τ</tspan><tspan font-size="12.2" dy="2.7" dx="0.0">1</tspan></text>
</g>
<g id="p2">
<line x1="457.99" x2="457.99" y1="375.6" y2="520.8" stroke="#b0b0b0" stroke-opacity="0.35" stroke-width="1"/>
<clipPath id="cb2"><rect x="396.14" y="375.6" width="123.7" height="145.20"/></clipPath>
<path d="M395.14,520.80 L420.08,520.80 L420.43,520.20 L420.78,520.80 L432.45,520.80 L432.80,510.20 L433.15,520.80 L444.82,520.80 L445.17,450.00 L445.52,520.80 L457.19,520.80 L457.54,381.80 L457.89,520.80 L469.56,520.80 L469.91,450.00 L470.26,520.80 L481.93,520.80 L482.28,510.20 L482.63,520.80 L494.30,520.80 L494.65,520.20 L495.00,520.80 L520.84,520.80" fill="none" stroke="#00008b" stroke-width="7.8" stroke-linejoin="round" clip-path="url(#cb2)"/>
<rect x="396.14" y="375.6" width="123.7" height="145.20" fill="none" stroke="#000" stroke-width="2.08"/>
<g stroke="#000" stroke-width="1.9">
<line x1="396.14" x2="396.14" y1="520.8" y2="529.80"/>
<line x1="458.09" x2="458.09" y1="520.8" y2="529.80"/>
<line x1="519.84" x2="519.84" y1="520.8" y2="529.80"/>
</g>
<g font-size="17.4" text-anchor="middle">
<text x="395.54" y="551.9">−10</text>
<text x="457.99" y="551.9">0</text>
<text x="519.84" y="551.9">10</text>
</g>
<text x="433.49" y="575.0" font-size="17.4"><tspan class="i">p</tspan><tspan dx="1.9">[</tspan><tspan class="i">ħk</tspan><tspan dx="-0.8">]</tspan></text>
<text x="434.59" y="369.7" font-size="17.4"><tspan class="i">t</tspan><tspan dx="3.3">=</tspan><tspan dx="3.3" class="i">τ</tspan><tspan font-size="12.2" dy="2.7" dx="0.0">2</tspan></text>
</g>
<g id="p3">
<line x1="612.61" x2="612.61" y1="375.6" y2="520.8" stroke="#b0b0b0" stroke-opacity="0.35" stroke-width="1"/>
<clipPath id="cb3"><rect x="550.76" y="375.6" width="123.7" height="145.20"/></clipPath>
<path d="M549.76,520.80 L579.42,520.80 L579.77,519.10 L580.12,520.80 L591.79,520.80 L592.14,496.10 L592.49,520.80 L604.22,520.80 L604.57,414.30 L604.92,520.80 L616.59,520.80 L616.94,398.80 L617.29,520.80 L629.02,520.80 L629.37,483.10 L629.72,520.80 L641.08,520.80 L641.43,517.30 L641.78,520.80 L675.46,520.80" fill="none" stroke="#00008b" stroke-width="7.8" stroke-linejoin="round" clip-path="url(#cb3)"/>
<rect x="550.76" y="375.6" width="123.7" height="145.20" fill="none" stroke="#000" stroke-width="2.08"/>
<g stroke="#000" stroke-width="1.9">
<line x1="550.76" x2="550.76" y1="520.8" y2="529.80"/>
<line x1="612.71" x2="612.71" y1="520.8" y2="529.80"/>
<line x1="674.46" x2="674.46" y1="520.8" y2="529.80"/>
</g>
<g font-size="17.4" text-anchor="middle">
<text x="550.16" y="551.9">−10</text>
<text x="612.61" y="551.9">0</text>
<text x="674.46" y="551.9">10</text>
</g>
<text x="588.11" y="575.0" font-size="17.4"><tspan class="i">p</tspan><tspan dx="1.9">[</tspan><tspan class="i">ħk</tspan><tspan dx="-0.8">]</tspan></text>
<text x="589.21" y="369.7" font-size="17.4"><tspan class="i">t</tspan><tspan dx="3.3">=</tspan><tspan dx="3.3" class="i">τ</tspan><tspan font-size="12.2" dy="2.7" dx="0.0">3</tspan></text>
</g>
<g id="p4">
<line x1="767.23" x2="767.23" y1="375.6" y2="520.8" stroke="#b0b0b0" stroke-opacity="0.35" stroke-width="1"/>
<clipPath id="cb4"><rect x="705.38" y="375.6" width="123.7" height="145.20"/></clipPath>
<path d="M704.38,520.80 L735.46,520.80 L735.81,517.90 L736.16,520.80 L747.89,520.80 L748.24,490.00 L748.59,520.80 L760.26,520.80 L760.61,404.60 L760.96,520.80 L772.69,520.80 L773.04,405.20 L773.39,520.80 L785.06,520.80 L785.41,490.00 L785.76,520.80 L797.50,520.80 L797.85,517.90 L798.20,520.80 L830.08,520.80" fill="none" stroke="#00008b" stroke-width="7.8" stroke-linejoin="round" clip-path="url(#cb4)"/>
<rect x="705.38" y="375.6" width="123.7" height="145.20" fill="none" stroke="#000" stroke-width="2.08"/>
<g stroke="#000" stroke-width="1.9">
<line x1="705.38" x2="705.38" y1="520.8" y2="529.80"/>
<line x1="767.33" x2="767.33" y1="520.8" y2="529.80"/>
<line x1="829.08" x2="829.08" y1="520.8" y2="529.80"/>
</g>
<g font-size="17.4" text-anchor="middle">
<text x="704.78" y="551.9">−10</text>
<text x="767.23" y="551.9">0</text>
<text x="829.08" y="551.9">10</text>
</g>
<text x="742.73" y="575.0" font-size="17.4"><tspan class="i">p</tspan><tspan dx="1.9">[</tspan><tspan class="i">ħk</tspan><tspan dx="-0.8">]</tspan></text>
<text x="743.83" y="369.7" font-size="17.4"><tspan class="i">t</tspan><tspan dx="3.3">=</tspan><tspan dx="3.3" class="i">τ</tspan><tspan font-size="12.2" dy="2.7" dx="0.0">4</tspan></text>
</g>
<g id="p5">
<line x1="921.85" x2="921.85" y1="375.6" y2="520.8" stroke="#b0b0b0" stroke-opacity="0.35" stroke-width="1"/>
<clipPath id="cb5"><rect x="860.00" y="375.6" width="123.7" height="145.20"/></clipPath>
<path d="M859.00,520.80 L890.08,520.80 L890.43,517.90 L890.78,520.80 L902.51,520.80 L902.86,490.00 L903.21,520.80 L914.88,520.80 L915.23,404.60 L915.58,520.80 L927.31,520.80 L927.66,405.20 L928.01,520.80 L939.68,520.80 L940.03,490.00 L940.38,520.80 L952.12,520.80 L952.47,517.90 L952.82,520.80 L984.70,520.80" fill="none" stroke="#00008b" stroke-width="7.8" stroke-linejoin="round" clip-path="url(#cb5)"/>
<rect x="860.00" y="375.6" width="123.7" height="145.20" fill="none" stroke="#000" stroke-width="2.08"/>
<g stroke="#000" stroke-width="1.9">
<line x1="860.00" x2="860.00" y1="520.8" y2="529.80"/>
<line x1="921.95" x2="921.95" y1="520.8" y2="529.80"/>
<line x1="983.70" x2="983.70" y1="520.8" y2="529.80"/>
</g>
<g font-size="17.4" text-anchor="middle">
<text x="859.40" y="551.9">−10</text>
<text x="921.85" y="551.9">0</text>
<text x="983.70" y="551.9">10</text>
</g>
<text x="897.35" y="575.0" font-size="17.4"><tspan class="i">p</tspan><tspan dx="1.9">[</tspan><tspan class="i">ħk</tspan><tspan dx="-0.8">]</tspan></text>
<text x="898.45" y="369.7" font-size="17.4"><tspan class="i">t</tspan><tspan dx="3.3">=</tspan><tspan dx="3.3" class="i">τ</tspan><tspan font-size="12.2" dy="2.7" dx="0.0">5</tspan></text>
</g>
</svg></body></html>
